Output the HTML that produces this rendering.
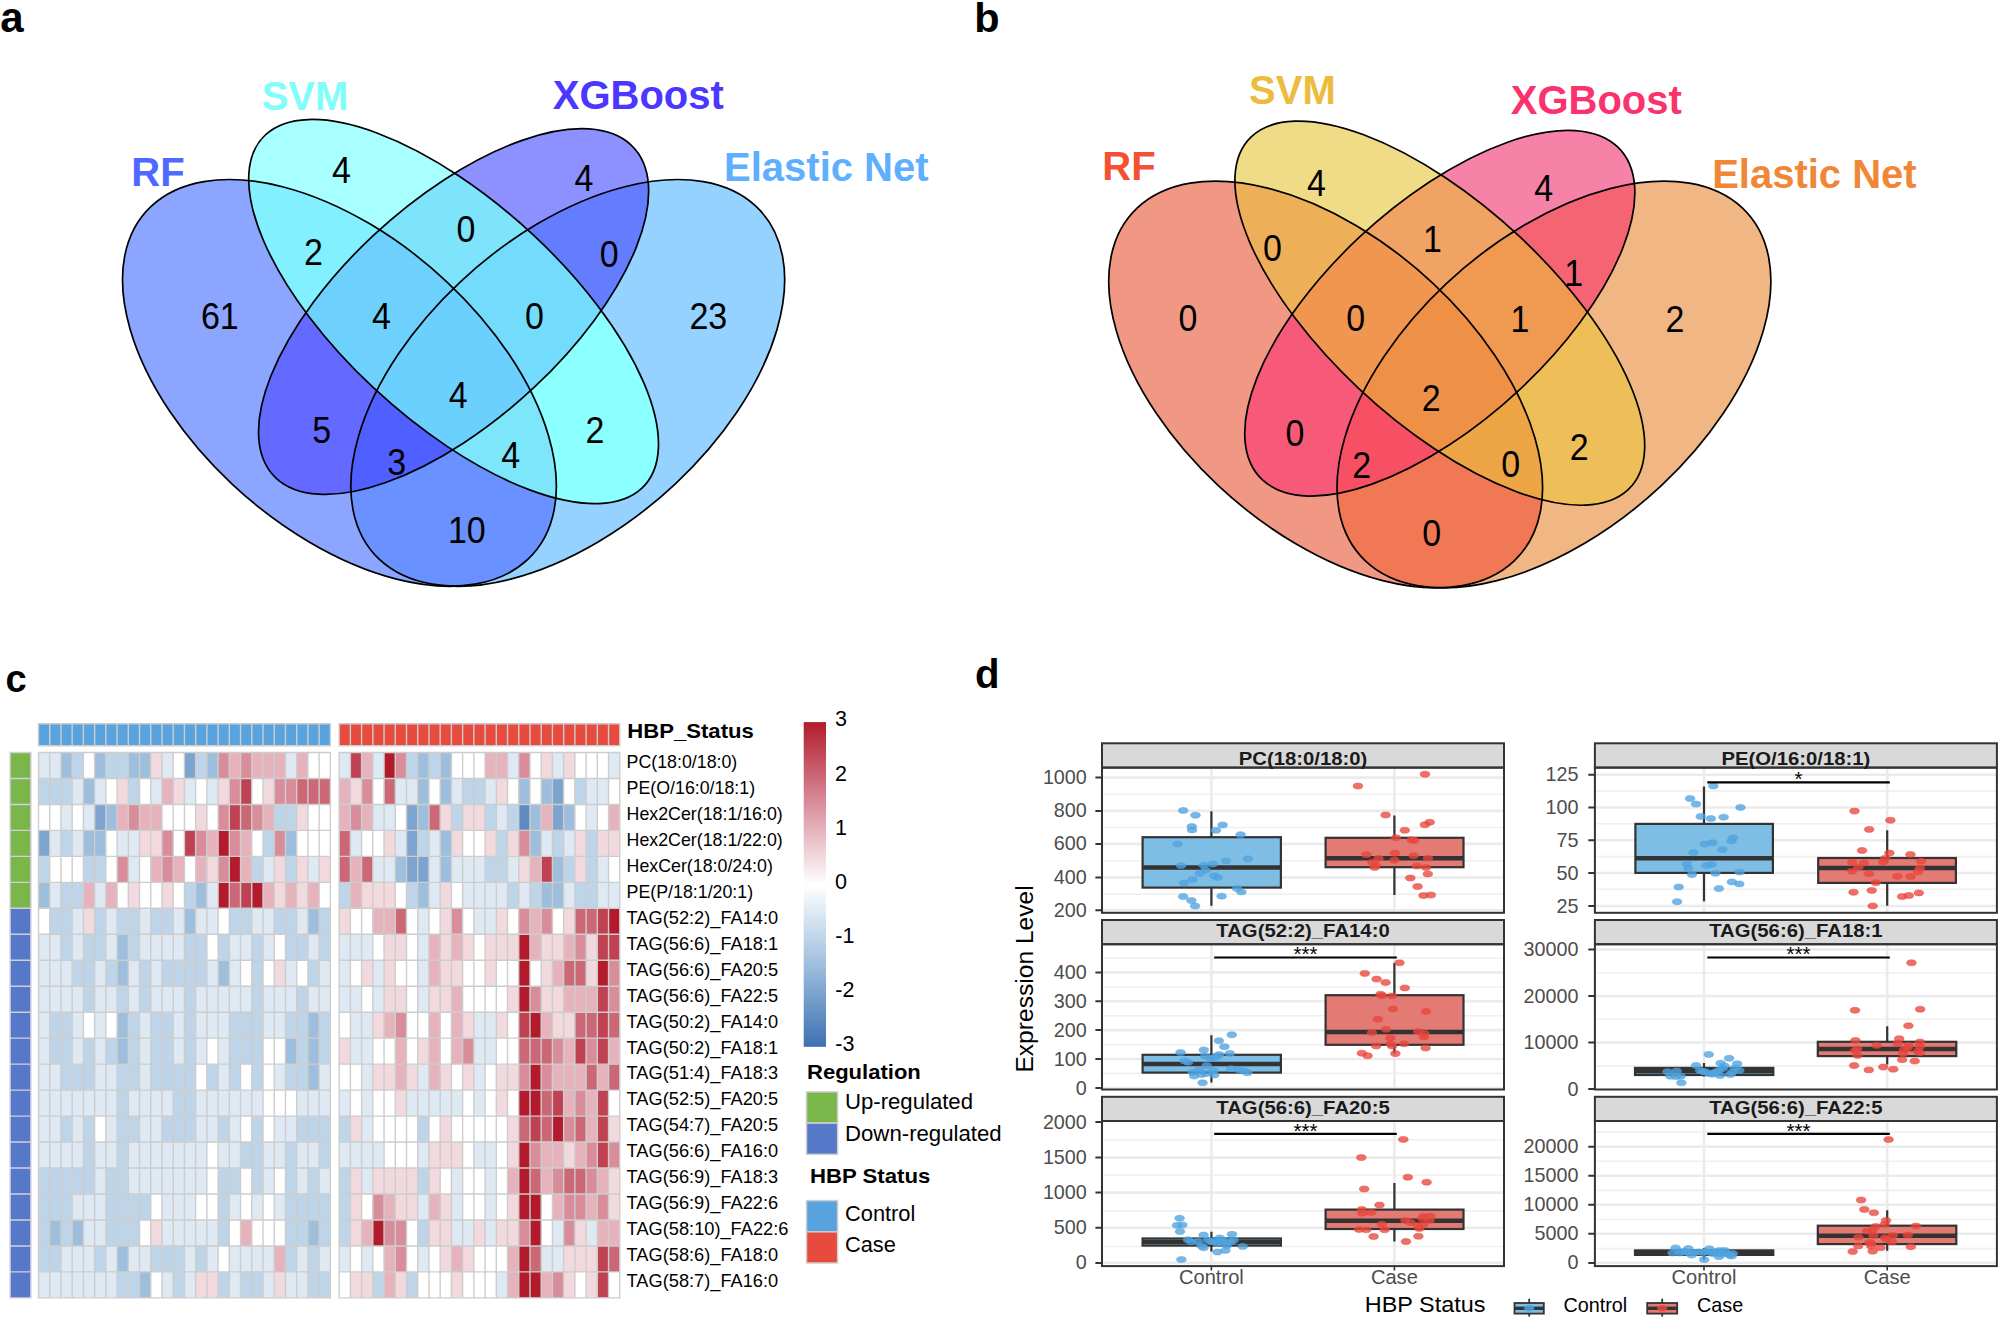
<!DOCTYPE html>
<html><head><meta charset="utf-8"><title>Figure</title>
<style>html,body{margin:0;padding:0;background:#fff}svg{display:block}text{font-family:"Liberation Sans",sans-serif}</style>
</head><body>
<svg width="2000" height="1319" viewBox="0 0 2000 1319">
<rect width="2000" height="1319" fill="#fff"/>
<g font-weight="bold" fill="#000"><text x="0.3" y="31.6" font-size="42">a</text><text x="974.2" y="31.7" font-size="41.5">b</text><text x="5.6" y="692" font-size="38">c</text><text x="975" y="687.7" font-size="40.2">d</text></g>
<g transform="translate(73.10,718.20) scale(761.00,-713.40)">
<defs>
<clipPath id="ac01"><ellipse cx="0.35" cy="0.47" rx="0.35" ry="0.2" transform="rotate(135 0.35 0.47)"/></clipPath>
<clipPath id="ac02"><ellipse cx="0.35" cy="0.47" rx="0.35" ry="0.2" transform="rotate(135 0.35 0.47)"/></clipPath>
<clipPath id="ac03"><ellipse cx="0.35" cy="0.47" rx="0.35" ry="0.2" transform="rotate(135 0.35 0.47)"/></clipPath>
<clipPath id="ac12"><ellipse cx="0.5" cy="0.57" rx="0.35" ry="0.15" transform="rotate(135 0.5 0.57)"/></clipPath>
<clipPath id="ac13"><ellipse cx="0.5" cy="0.57" rx="0.35" ry="0.15" transform="rotate(135 0.5 0.57)"/></clipPath>
<clipPath id="ac23"><ellipse cx="0.5" cy="0.57" rx="0.33" ry="0.15" transform="rotate(45 0.5 0.57)"/></clipPath>
<clipPath id="ac012" clip-path="url(#ac01)"><ellipse cx="0.5" cy="0.57" rx="0.35" ry="0.15" transform="rotate(135 0.5 0.57)"/></clipPath>
<clipPath id="ac013" clip-path="url(#ac01)"><ellipse cx="0.5" cy="0.57" rx="0.35" ry="0.15" transform="rotate(135 0.5 0.57)"/></clipPath>
<clipPath id="ac023" clip-path="url(#ac02)"><ellipse cx="0.5" cy="0.57" rx="0.33" ry="0.15" transform="rotate(45 0.5 0.57)"/></clipPath>
<clipPath id="ac123" clip-path="url(#ac12)"><ellipse cx="0.5" cy="0.57" rx="0.33" ry="0.15" transform="rotate(45 0.5 0.57)"/></clipPath>
<clipPath id="ac0123" clip-path="url(#ac012)"><ellipse cx="0.5" cy="0.57" rx="0.33" ry="0.15" transform="rotate(45 0.5 0.57)"/></clipPath>
</defs>
<ellipse cx="0.35" cy="0.47" rx="0.35" ry="0.2" transform="rotate(135 0.35 0.47)" fill="#8CA5FF"/>
<ellipse cx="0.5" cy="0.57" rx="0.35" ry="0.15" transform="rotate(135 0.5 0.57)" fill="#A8FFFF"/>
<ellipse cx="0.5" cy="0.57" rx="0.33" ry="0.15" transform="rotate(45 0.5 0.57)" fill="#8C91FF"/>
<ellipse cx="0.65" cy="0.47" rx="0.35" ry="0.2" transform="rotate(45 0.65 0.47)" fill="#96D2FF"/>
<g clip-path="url(#ac01)"><ellipse cx="0.5" cy="0.57" rx="0.35" ry="0.15" transform="rotate(135 0.5 0.57)" fill="#82F0FF"/></g>
<g clip-path="url(#ac02)"><ellipse cx="0.5" cy="0.57" rx="0.33" ry="0.15" transform="rotate(45 0.5 0.57)" fill="#6469FF"/></g>
<g clip-path="url(#ac03)"><ellipse cx="0.65" cy="0.47" rx="0.35" ry="0.2" transform="rotate(45 0.65 0.47)" fill="#6991FF"/></g>
<g clip-path="url(#ac12)"><ellipse cx="0.5" cy="0.57" rx="0.33" ry="0.15" transform="rotate(45 0.5 0.57)" fill="#7DE4FC"/></g>
<g clip-path="url(#ac13)"><ellipse cx="0.65" cy="0.47" rx="0.35" ry="0.2" transform="rotate(45 0.65 0.47)" fill="#8CFFFF"/></g>
<g clip-path="url(#ac23)"><ellipse cx="0.65" cy="0.47" rx="0.35" ry="0.2" transform="rotate(45 0.65 0.47)" fill="#647DFF"/></g>
<g clip-path="url(#ac012)"><ellipse cx="0.5" cy="0.57" rx="0.33" ry="0.15" transform="rotate(45 0.5 0.57)" fill="#6ED0FC"/></g>
<g clip-path="url(#ac013)"><ellipse cx="0.65" cy="0.47" rx="0.35" ry="0.2" transform="rotate(45 0.65 0.47)" fill="#7DE6FA"/></g>
<g clip-path="url(#ac023)"><ellipse cx="0.65" cy="0.47" rx="0.35" ry="0.2" transform="rotate(45 0.65 0.47)" fill="#505FFF"/></g>
<g clip-path="url(#ac123)"><ellipse cx="0.65" cy="0.47" rx="0.35" ry="0.2" transform="rotate(45 0.65 0.47)" fill="#73DCFD"/></g>
<g clip-path="url(#ac0123)"><ellipse cx="0.65" cy="0.47" rx="0.35" ry="0.2" transform="rotate(45 0.65 0.47)" fill="#6CD0FF"/></g>
<ellipse cx="0.65" cy="0.47" rx="0.35" ry="0.2" transform="rotate(45 0.65 0.47)" fill="none" stroke="#000" stroke-width="1.7" vector-effect="non-scaling-stroke"/>
<ellipse cx="0.35" cy="0.47" rx="0.35" ry="0.2" transform="rotate(135 0.35 0.47)" fill="none" stroke="#000" stroke-width="1.7" vector-effect="non-scaling-stroke"/>
<ellipse cx="0.5" cy="0.57" rx="0.33" ry="0.15" transform="rotate(45 0.5 0.57)" fill="none" stroke="#000" stroke-width="1.7" vector-effect="non-scaling-stroke"/>
<ellipse cx="0.5" cy="0.57" rx="0.35" ry="0.15" transform="rotate(135 0.5 0.57)" fill="none" stroke="#000" stroke-width="1.7" vector-effect="non-scaling-stroke"/>
</g>
<g font-size="37" fill="#000">
<text x="200.9" y="329.1" textLength="37.9" lengthAdjust="spacingAndGlyphs">61</text>
<text x="332.1" y="182.7" textLength="18.9" lengthAdjust="spacingAndGlyphs">4</text>
<text x="574.6" y="190.5" textLength="18.9" lengthAdjust="spacingAndGlyphs">4</text>
<text x="689.4" y="329.1" textLength="37.9" lengthAdjust="spacingAndGlyphs">23</text>
<text x="304.0" y="264.6" textLength="18.9" lengthAdjust="spacingAndGlyphs">2</text>
<text x="456.6" y="242.1" textLength="18.9" lengthAdjust="spacingAndGlyphs">0</text>
<text x="599.8" y="266.7" textLength="18.9" lengthAdjust="spacingAndGlyphs">0</text>
<text x="372.0" y="329.1" textLength="18.9" lengthAdjust="spacingAndGlyphs">4</text>
<text x="525.0" y="329.1" textLength="18.9" lengthAdjust="spacingAndGlyphs">0</text>
<text x="448.8" y="407.7" textLength="18.9" lengthAdjust="spacingAndGlyphs">4</text>
<text x="312.3" y="442.5" textLength="18.9" lengthAdjust="spacingAndGlyphs">5</text>
<text x="585.5" y="442.5" textLength="18.9" lengthAdjust="spacingAndGlyphs">2</text>
<text x="387.3" y="474.5" textLength="18.9" lengthAdjust="spacingAndGlyphs">3</text>
<text x="501.3" y="468.2" textLength="18.9" lengthAdjust="spacingAndGlyphs">4</text>
<text x="447.9" y="543.2" textLength="37.9" lengthAdjust="spacingAndGlyphs">10</text>
</g>
<g font-size="40" font-weight="bold" text-anchor="middle">
<text x="158" y="186" fill="#4D69FF">RF</text>
<text x="305" y="110" fill="#80FFFA">SVM</text>
<text x="638.3" y="109.1" fill="#4B37FF">XGBoost</text>
<text x="826.3" y="180.8" fill="#5FAFFF">Elastic Net</text>
</g>
<g transform="translate(1059.30,719.80) scale(761.00,-713.40)">
<defs>
<clipPath id="bc01"><ellipse cx="0.35" cy="0.47" rx="0.35" ry="0.2" transform="rotate(135 0.35 0.47)"/></clipPath>
<clipPath id="bc02"><ellipse cx="0.35" cy="0.47" rx="0.35" ry="0.2" transform="rotate(135 0.35 0.47)"/></clipPath>
<clipPath id="bc03"><ellipse cx="0.35" cy="0.47" rx="0.35" ry="0.2" transform="rotate(135 0.35 0.47)"/></clipPath>
<clipPath id="bc12"><ellipse cx="0.5" cy="0.57" rx="0.35" ry="0.15" transform="rotate(135 0.5 0.57)"/></clipPath>
<clipPath id="bc13"><ellipse cx="0.5" cy="0.57" rx="0.35" ry="0.15" transform="rotate(135 0.5 0.57)"/></clipPath>
<clipPath id="bc23"><ellipse cx="0.5" cy="0.57" rx="0.33" ry="0.15" transform="rotate(45 0.5 0.57)"/></clipPath>
<clipPath id="bc012" clip-path="url(#bc01)"><ellipse cx="0.5" cy="0.57" rx="0.35" ry="0.15" transform="rotate(135 0.5 0.57)"/></clipPath>
<clipPath id="bc013" clip-path="url(#bc01)"><ellipse cx="0.5" cy="0.57" rx="0.35" ry="0.15" transform="rotate(135 0.5 0.57)"/></clipPath>
<clipPath id="bc023" clip-path="url(#bc02)"><ellipse cx="0.5" cy="0.57" rx="0.33" ry="0.15" transform="rotate(45 0.5 0.57)"/></clipPath>
<clipPath id="bc123" clip-path="url(#bc12)"><ellipse cx="0.5" cy="0.57" rx="0.33" ry="0.15" transform="rotate(45 0.5 0.57)"/></clipPath>
<clipPath id="bc0123" clip-path="url(#bc012)"><ellipse cx="0.5" cy="0.57" rx="0.33" ry="0.15" transform="rotate(45 0.5 0.57)"/></clipPath>
</defs>
<ellipse cx="0.35" cy="0.47" rx="0.35" ry="0.2" transform="rotate(135 0.35 0.47)" fill="#F19885"/>
<ellipse cx="0.5" cy="0.57" rx="0.35" ry="0.15" transform="rotate(135 0.5 0.57)" fill="#F0DC87"/>
<ellipse cx="0.5" cy="0.57" rx="0.33" ry="0.15" transform="rotate(45 0.5 0.57)" fill="#F682A8"/>
<ellipse cx="0.65" cy="0.47" rx="0.35" ry="0.2" transform="rotate(45 0.65 0.47)" fill="#F0B785"/>
<g clip-path="url(#bc01)"><ellipse cx="0.5" cy="0.57" rx="0.35" ry="0.15" transform="rotate(135 0.5 0.57)" fill="#EDAF58"/></g>
<g clip-path="url(#bc02)"><ellipse cx="0.5" cy="0.57" rx="0.33" ry="0.15" transform="rotate(45 0.5 0.57)" fill="#F75A78"/></g>
<g clip-path="url(#bc03)"><ellipse cx="0.65" cy="0.47" rx="0.35" ry="0.2" transform="rotate(45 0.65 0.47)" fill="#F07855"/></g>
<g clip-path="url(#bc12)"><ellipse cx="0.5" cy="0.57" rx="0.33" ry="0.15" transform="rotate(45 0.5 0.57)" fill="#F0A362"/></g>
<g clip-path="url(#bc13)"><ellipse cx="0.65" cy="0.47" rx="0.35" ry="0.2" transform="rotate(45 0.65 0.47)" fill="#EEBE58"/></g>
<g clip-path="url(#bc23)"><ellipse cx="0.65" cy="0.47" rx="0.35" ry="0.2" transform="rotate(45 0.65 0.47)" fill="#F56473"/></g>
<g clip-path="url(#bc012)"><ellipse cx="0.5" cy="0.57" rx="0.33" ry="0.15" transform="rotate(45 0.5 0.57)" fill="#F09650"/></g>
<g clip-path="url(#bc013)"><ellipse cx="0.65" cy="0.47" rx="0.35" ry="0.2" transform="rotate(45 0.65 0.47)" fill="#EEA546"/></g>
<g clip-path="url(#bc023)"><ellipse cx="0.65" cy="0.47" rx="0.35" ry="0.2" transform="rotate(45 0.65 0.47)" fill="#F75064"/></g>
<g clip-path="url(#bc123)"><ellipse cx="0.65" cy="0.47" rx="0.35" ry="0.2" transform="rotate(45 0.65 0.47)" fill="#F09950"/></g>
<g clip-path="url(#bc0123)"><ellipse cx="0.65" cy="0.47" rx="0.35" ry="0.2" transform="rotate(45 0.65 0.47)" fill="#EE9146"/></g>
<ellipse cx="0.65" cy="0.47" rx="0.35" ry="0.2" transform="rotate(45 0.65 0.47)" fill="none" stroke="#000" stroke-width="1.7" vector-effect="non-scaling-stroke"/>
<ellipse cx="0.35" cy="0.47" rx="0.35" ry="0.2" transform="rotate(135 0.35 0.47)" fill="none" stroke="#000" stroke-width="1.7" vector-effect="non-scaling-stroke"/>
<ellipse cx="0.5" cy="0.57" rx="0.33" ry="0.15" transform="rotate(45 0.5 0.57)" fill="none" stroke="#000" stroke-width="1.7" vector-effect="non-scaling-stroke"/>
<ellipse cx="0.5" cy="0.57" rx="0.35" ry="0.15" transform="rotate(135 0.5 0.57)" fill="none" stroke="#000" stroke-width="1.7" vector-effect="non-scaling-stroke"/>
</g>
<g font-size="37" fill="#000">
<text x="1178.4" y="331.2" textLength="18.9" lengthAdjust="spacingAndGlyphs">0</text>
<text x="1306.9" y="196.0" textLength="18.9" lengthAdjust="spacingAndGlyphs">4</text>
<text x="1534.3" y="200.7" textLength="18.9" lengthAdjust="spacingAndGlyphs">4</text>
<text x="1665.5" y="332.2" textLength="18.9" lengthAdjust="spacingAndGlyphs">2</text>
<text x="1262.9" y="260.5" textLength="18.9" lengthAdjust="spacingAndGlyphs">0</text>
<text x="1423.0" y="252.3" textLength="18.9" lengthAdjust="spacingAndGlyphs">1</text>
<text x="1564.3" y="285.7" textLength="18.9" lengthAdjust="spacingAndGlyphs">1</text>
<text x="1346.2" y="331.2" textLength="18.9" lengthAdjust="spacingAndGlyphs">0</text>
<text x="1510.5" y="332.2" textLength="18.9" lengthAdjust="spacingAndGlyphs">1</text>
<text x="1421.8" y="411.2" textLength="18.9" lengthAdjust="spacingAndGlyphs">2</text>
<text x="1285.5" y="446.2" textLength="18.9" lengthAdjust="spacingAndGlyphs">0</text>
<text x="1569.8" y="459.5" textLength="18.9" lengthAdjust="spacingAndGlyphs">2</text>
<text x="1352.3" y="478.2" textLength="18.9" lengthAdjust="spacingAndGlyphs">2</text>
<text x="1501.3" y="477.0" textLength="18.9" lengthAdjust="spacingAndGlyphs">0</text>
<text x="1422.3" y="545.7" textLength="18.9" lengthAdjust="spacingAndGlyphs">0</text>
</g>
<g font-size="40" font-weight="bold" text-anchor="middle">
<text x="1129" y="179.8" fill="#F55032">RF</text>
<text x="1292.4" y="103.6" fill="#EBBC3E">SVM</text>
<text x="1596.3" y="113.8" fill="#FA326E">XGBoost</text>
<text x="1814.4" y="188" fill="#F08737">Elastic Net</text>
</g>
<path fill="#5E8AC0" d="M518.75 804.44h11.225v25.97h-11.225z"/>
<path fill="#7DA4CF" d="M184.42 752.50h11.225v25.97h-11.225zM552.42 778.47h11.225v25.97h-11.225zM94.62 804.44h11.225v25.97h-11.225zM406.50 804.44h11.225v25.97h-11.225zM552.42 804.44h11.225v25.97h-11.225zM38.50 830.41h11.225v25.97h-11.225zM406.50 830.41h11.225v25.97h-11.225zM406.50 856.38h11.225v25.97h-11.225zM417.72 856.38h11.225v25.97h-11.225z"/>
<path fill="#9DBEDD" d="M60.95 752.50h11.225v25.97h-11.225zM94.62 752.50h11.225v25.97h-11.225zM128.30 752.50h11.225v25.97h-11.225zM139.52 752.50h11.225v25.97h-11.225zM206.88 752.50h11.225v25.97h-11.225zM417.72 752.50h11.225v25.97h-11.225zM440.17 752.50h11.225v25.97h-11.225zM83.40 778.47h11.225v25.97h-11.225zM417.72 778.47h11.225v25.97h-11.225zM440.17 778.47h11.225v25.97h-11.225zM518.75 778.47h11.225v25.97h-11.225zM541.20 778.47h11.225v25.97h-11.225zM105.85 804.44h11.225v25.97h-11.225zM417.72 804.44h11.225v25.97h-11.225zM529.97 804.44h11.225v25.97h-11.225zM563.65 804.44h11.225v25.97h-11.225zM83.40 830.41h11.225v25.97h-11.225zM94.62 830.41h11.225v25.97h-11.225zM285.45 830.41h11.225v25.97h-11.225zM440.17 830.41h11.225v25.97h-11.225zM529.97 830.41h11.225v25.97h-11.225zM395.27 856.38h11.225v25.97h-11.225zM440.17 856.38h11.225v25.97h-11.225zM552.42 856.38h11.225v25.97h-11.225zM38.50 882.35h11.225v25.97h-11.225zM195.65 882.35h11.225v25.97h-11.225zM417.72 882.35h11.225v25.97h-11.225zM541.20 882.35h11.225v25.97h-11.225zM552.42 882.35h11.225v25.97h-11.225zM184.42 908.32h11.225v25.97h-11.225zM307.90 908.32h11.225v25.97h-11.225zM117.08 934.29h11.225v25.97h-11.225zM117.08 960.26h11.225v25.97h-11.225zM218.10 960.26h11.225v25.97h-11.225zM117.08 1012.20h11.225v25.97h-11.225zM307.90 1012.20h11.225v25.97h-11.225zM117.08 1038.17h11.225v25.97h-11.225zM285.45 1038.17h11.225v25.97h-11.225zM307.90 1038.17h11.225v25.97h-11.225zM307.90 1064.14h11.225v25.97h-11.225zM49.73 1219.96h11.225v25.97h-11.225zM72.17 1219.96h11.225v25.97h-11.225zM307.90 1219.96h11.225v25.97h-11.225zM117.08 1245.93h11.225v25.97h-11.225zM139.52 1271.90h11.225v25.97h-11.225z"/>
<path fill="#BED4E8" d="M72.17 752.50h11.225v25.97h-11.225zM105.85 752.50h11.225v25.97h-11.225zM117.08 752.50h11.225v25.97h-11.225zM195.65 752.50h11.225v25.97h-11.225zM406.50 752.50h11.225v25.97h-11.225zM428.95 752.50h11.225v25.97h-11.225zM38.50 778.47h11.225v25.97h-11.225zM49.73 778.47h11.225v25.97h-11.225zM60.95 778.47h11.225v25.97h-11.225zM128.30 778.47h11.225v25.97h-11.225zM462.62 778.47h11.225v25.97h-11.225zM473.85 778.47h11.225v25.97h-11.225zM574.88 778.47h11.225v25.97h-11.225zM274.23 804.44h11.225v25.97h-11.225zM285.45 804.44h11.225v25.97h-11.225zM451.40 804.44h11.225v25.97h-11.225zM485.07 804.44h11.225v25.97h-11.225zM507.52 804.44h11.225v25.97h-11.225zM60.95 830.41h11.225v25.97h-11.225zM263.00 830.41h11.225v25.97h-11.225zM417.72 830.41h11.225v25.97h-11.225zM496.30 830.41h11.225v25.97h-11.225zM552.42 830.41h11.225v25.97h-11.225zM586.10 830.41h11.225v25.97h-11.225zM38.50 856.38h11.225v25.97h-11.225zM83.40 856.38h11.225v25.97h-11.225zM94.62 856.38h11.225v25.97h-11.225zM251.78 856.38h11.225v25.97h-11.225zM285.45 856.38h11.225v25.97h-11.225zM485.07 856.38h11.225v25.97h-11.225zM496.30 856.38h11.225v25.97h-11.225zM563.65 856.38h11.225v25.97h-11.225zM586.10 856.38h11.225v25.97h-11.225zM60.95 882.35h11.225v25.97h-11.225zM72.17 882.35h11.225v25.97h-11.225zM184.42 882.35h11.225v25.97h-11.225zM339.15 882.35h11.225v25.97h-11.225zM406.50 882.35h11.225v25.97h-11.225zM507.52 882.35h11.225v25.97h-11.225zM529.97 882.35h11.225v25.97h-11.225zM574.88 882.35h11.225v25.97h-11.225zM586.10 882.35h11.225v25.97h-11.225zM49.73 908.32h11.225v25.97h-11.225zM60.95 908.32h11.225v25.97h-11.225zM94.62 908.32h11.225v25.97h-11.225zM117.08 908.32h11.225v25.97h-11.225zM128.30 908.32h11.225v25.97h-11.225zM150.75 908.32h11.225v25.97h-11.225zM161.97 908.32h11.225v25.97h-11.225zM229.32 908.32h11.225v25.97h-11.225zM240.55 908.32h11.225v25.97h-11.225zM274.23 908.32h11.225v25.97h-11.225zM285.45 908.32h11.225v25.97h-11.225zM319.12 908.32h11.225v25.97h-11.225zM60.95 934.29h11.225v25.97h-11.225zM83.40 934.29h11.225v25.97h-11.225zM94.62 934.29h11.225v25.97h-11.225zM128.30 934.29h11.225v25.97h-11.225zM184.42 934.29h11.225v25.97h-11.225zM195.65 934.29h11.225v25.97h-11.225zM218.10 934.29h11.225v25.97h-11.225zM251.78 934.29h11.225v25.97h-11.225zM285.45 934.29h11.225v25.97h-11.225zM296.68 934.29h11.225v25.97h-11.225zM319.12 934.29h11.225v25.97h-11.225zM72.17 960.26h11.225v25.97h-11.225zM83.40 960.26h11.225v25.97h-11.225zM105.85 960.26h11.225v25.97h-11.225zM139.52 960.26h11.225v25.97h-11.225zM161.97 960.26h11.225v25.97h-11.225zM173.20 960.26h11.225v25.97h-11.225zM184.42 960.26h11.225v25.97h-11.225zM195.65 960.26h11.225v25.97h-11.225zM251.78 960.26h11.225v25.97h-11.225zM307.90 960.26h11.225v25.97h-11.225zM83.40 986.23h11.225v25.97h-11.225zM117.08 986.23h11.225v25.97h-11.225zM139.52 986.23h11.225v25.97h-11.225zM184.42 986.23h11.225v25.97h-11.225zM251.78 986.23h11.225v25.97h-11.225zM296.68 986.23h11.225v25.97h-11.225zM49.73 1012.20h11.225v25.97h-11.225zM60.95 1012.20h11.225v25.97h-11.225zM128.30 1012.20h11.225v25.97h-11.225zM150.75 1012.20h11.225v25.97h-11.225zM161.97 1012.20h11.225v25.97h-11.225zM184.42 1012.20h11.225v25.97h-11.225zM229.32 1012.20h11.225v25.97h-11.225zM240.55 1012.20h11.225v25.97h-11.225zM251.78 1012.20h11.225v25.97h-11.225zM285.45 1012.20h11.225v25.97h-11.225zM296.68 1012.20h11.225v25.97h-11.225zM319.12 1012.20h11.225v25.97h-11.225zM49.73 1038.17h11.225v25.97h-11.225zM60.95 1038.17h11.225v25.97h-11.225zM83.40 1038.17h11.225v25.97h-11.225zM105.85 1038.17h11.225v25.97h-11.225zM128.30 1038.17h11.225v25.97h-11.225zM150.75 1038.17h11.225v25.97h-11.225zM161.97 1038.17h11.225v25.97h-11.225zM184.42 1038.17h11.225v25.97h-11.225zM229.32 1038.17h11.225v25.97h-11.225zM240.55 1038.17h11.225v25.97h-11.225zM251.78 1038.17h11.225v25.97h-11.225zM296.68 1038.17h11.225v25.97h-11.225zM319.12 1038.17h11.225v25.97h-11.225zM60.95 1064.14h11.225v25.97h-11.225zM72.17 1064.14h11.225v25.97h-11.225zM83.40 1064.14h11.225v25.97h-11.225zM117.08 1064.14h11.225v25.97h-11.225zM128.30 1064.14h11.225v25.97h-11.225zM150.75 1064.14h11.225v25.97h-11.225zM161.97 1064.14h11.225v25.97h-11.225zM173.20 1064.14h11.225v25.97h-11.225zM184.42 1064.14h11.225v25.97h-11.225zM206.88 1064.14h11.225v25.97h-11.225zM229.32 1064.14h11.225v25.97h-11.225zM251.78 1064.14h11.225v25.97h-11.225zM285.45 1064.14h11.225v25.97h-11.225zM296.68 1064.14h11.225v25.97h-11.225zM117.08 1090.11h11.225v25.97h-11.225zM173.20 1090.11h11.225v25.97h-11.225zM184.42 1090.11h11.225v25.97h-11.225zM60.95 1116.08h11.225v25.97h-11.225zM83.40 1116.08h11.225v25.97h-11.225zM117.08 1116.08h11.225v25.97h-11.225zM128.30 1116.08h11.225v25.97h-11.225zM161.97 1116.08h11.225v25.97h-11.225zM173.20 1116.08h11.225v25.97h-11.225zM184.42 1116.08h11.225v25.97h-11.225zM218.10 1116.08h11.225v25.97h-11.225zM251.78 1116.08h11.225v25.97h-11.225zM296.68 1116.08h11.225v25.97h-11.225zM307.90 1116.08h11.225v25.97h-11.225zM319.12 1116.08h11.225v25.97h-11.225zM339.15 1116.08h11.225v25.97h-11.225zM417.72 1116.08h11.225v25.97h-11.225zM83.40 1142.05h11.225v25.97h-11.225zM117.08 1142.05h11.225v25.97h-11.225zM240.55 1142.05h11.225v25.97h-11.225zM251.78 1142.05h11.225v25.97h-11.225zM285.45 1142.05h11.225v25.97h-11.225zM319.12 1142.05h11.225v25.97h-11.225zM38.50 1168.02h11.225v25.97h-11.225zM49.73 1168.02h11.225v25.97h-11.225zM60.95 1168.02h11.225v25.97h-11.225zM72.17 1168.02h11.225v25.97h-11.225zM83.40 1168.02h11.225v25.97h-11.225zM105.85 1168.02h11.225v25.97h-11.225zM117.08 1168.02h11.225v25.97h-11.225zM218.10 1168.02h11.225v25.97h-11.225zM229.32 1168.02h11.225v25.97h-11.225zM251.78 1168.02h11.225v25.97h-11.225zM285.45 1168.02h11.225v25.97h-11.225zM307.90 1168.02h11.225v25.97h-11.225zM339.15 1168.02h11.225v25.97h-11.225zM417.72 1168.02h11.225v25.97h-11.225zM38.50 1193.99h11.225v25.97h-11.225zM49.73 1193.99h11.225v25.97h-11.225zM60.95 1193.99h11.225v25.97h-11.225zM105.85 1193.99h11.225v25.97h-11.225zM117.08 1193.99h11.225v25.97h-11.225zM128.30 1193.99h11.225v25.97h-11.225zM139.52 1193.99h11.225v25.97h-11.225zM218.10 1193.99h11.225v25.97h-11.225zM285.45 1193.99h11.225v25.97h-11.225zM296.68 1193.99h11.225v25.97h-11.225zM307.90 1193.99h11.225v25.97h-11.225zM319.12 1193.99h11.225v25.97h-11.225zM339.15 1193.99h11.225v25.97h-11.225zM38.50 1219.96h11.225v25.97h-11.225zM60.95 1219.96h11.225v25.97h-11.225zM105.85 1219.96h11.225v25.97h-11.225zM117.08 1219.96h11.225v25.97h-11.225zM128.30 1219.96h11.225v25.97h-11.225zM218.10 1219.96h11.225v25.97h-11.225zM285.45 1219.96h11.225v25.97h-11.225zM296.68 1219.96h11.225v25.97h-11.225zM319.12 1219.96h11.225v25.97h-11.225zM339.15 1219.96h11.225v25.97h-11.225zM417.72 1219.96h11.225v25.97h-11.225zM38.50 1245.93h11.225v25.97h-11.225zM49.73 1245.93h11.225v25.97h-11.225zM94.62 1245.93h11.225v25.97h-11.225zM150.75 1245.93h11.225v25.97h-11.225zM161.97 1245.93h11.225v25.97h-11.225zM173.20 1245.93h11.225v25.97h-11.225zM195.65 1245.93h11.225v25.97h-11.225zM285.45 1245.93h11.225v25.97h-11.225zM307.90 1245.93h11.225v25.97h-11.225zM117.08 1271.90h11.225v25.97h-11.225zM128.30 1271.90h11.225v25.97h-11.225zM173.20 1271.90h11.225v25.97h-11.225zM218.10 1271.90h11.225v25.97h-11.225zM240.55 1271.90h11.225v25.97h-11.225zM251.78 1271.90h11.225v25.97h-11.225zM307.90 1271.90h11.225v25.97h-11.225zM319.12 1271.90h11.225v25.97h-11.225zM372.82 1271.90h11.225v25.97h-11.225zM406.50 1271.90h11.225v25.97h-11.225z"/>
<path fill="#DEE9F4" d="M38.50 752.50h11.225v25.97h-11.225zM49.73 752.50h11.225v25.97h-11.225zM161.97 752.50h11.225v25.97h-11.225zM285.45 752.50h11.225v25.97h-11.225zM339.15 752.50h11.225v25.97h-11.225zM372.82 752.50h11.225v25.97h-11.225zM507.52 752.50h11.225v25.97h-11.225zM552.42 752.50h11.225v25.97h-11.225zM608.55 752.50h11.225v25.97h-11.225zM72.17 778.47h11.225v25.97h-11.225zM94.62 778.47h11.225v25.97h-11.225zM150.75 778.47h11.225v25.97h-11.225zM184.42 778.47h11.225v25.97h-11.225zM206.88 778.47h11.225v25.97h-11.225zM395.27 778.47h11.225v25.97h-11.225zM406.50 778.47h11.225v25.97h-11.225zM451.40 778.47h11.225v25.97h-11.225zM485.07 778.47h11.225v25.97h-11.225zM586.10 778.47h11.225v25.97h-11.225zM597.33 778.47h11.225v25.97h-11.225zM60.95 804.44h11.225v25.97h-11.225zM83.40 804.44h11.225v25.97h-11.225zM372.82 804.44h11.225v25.97h-11.225zM384.05 804.44h11.225v25.97h-11.225zM496.30 804.44h11.225v25.97h-11.225zM586.10 804.44h11.225v25.97h-11.225zM49.73 830.41h11.225v25.97h-11.225zM72.17 830.41h11.225v25.97h-11.225zM117.08 830.41h11.225v25.97h-11.225zM128.30 830.41h11.225v25.97h-11.225zM350.38 830.41h11.225v25.97h-11.225zM395.27 830.41h11.225v25.97h-11.225zM428.95 830.41h11.225v25.97h-11.225zM541.20 830.41h11.225v25.97h-11.225zM563.65 830.41h11.225v25.97h-11.225zM128.30 856.38h11.225v25.97h-11.225zM263.00 856.38h11.225v25.97h-11.225zM307.90 856.38h11.225v25.97h-11.225zM372.82 856.38h11.225v25.97h-11.225zM384.05 856.38h11.225v25.97h-11.225zM428.95 856.38h11.225v25.97h-11.225zM451.40 856.38h11.225v25.97h-11.225zM462.62 856.38h11.225v25.97h-11.225zM473.85 856.38h11.225v25.97h-11.225zM507.52 856.38h11.225v25.97h-11.225zM597.33 856.38h11.225v25.97h-11.225zM49.73 882.35h11.225v25.97h-11.225zM94.62 882.35h11.225v25.97h-11.225zM206.88 882.35h11.225v25.97h-11.225zM428.95 882.35h11.225v25.97h-11.225zM462.62 882.35h11.225v25.97h-11.225zM473.85 882.35h11.225v25.97h-11.225zM485.07 882.35h11.225v25.97h-11.225zM496.30 882.35h11.225v25.97h-11.225zM518.75 882.35h11.225v25.97h-11.225zM563.65 882.35h11.225v25.97h-11.225zM597.33 882.35h11.225v25.97h-11.225zM608.55 882.35h11.225v25.97h-11.225zM72.17 908.32h11.225v25.97h-11.225zM105.85 908.32h11.225v25.97h-11.225zM139.52 908.32h11.225v25.97h-11.225zM173.20 908.32h11.225v25.97h-11.225zM195.65 908.32h11.225v25.97h-11.225zM206.88 908.32h11.225v25.97h-11.225zM251.78 908.32h11.225v25.97h-11.225zM263.00 908.32h11.225v25.97h-11.225zM296.68 908.32h11.225v25.97h-11.225zM417.72 908.32h11.225v25.97h-11.225zM473.85 908.32h11.225v25.97h-11.225zM485.07 908.32h11.225v25.97h-11.225zM38.50 934.29h11.225v25.97h-11.225zM49.73 934.29h11.225v25.97h-11.225zM72.17 934.29h11.225v25.97h-11.225zM105.85 934.29h11.225v25.97h-11.225zM139.52 934.29h11.225v25.97h-11.225zM150.75 934.29h11.225v25.97h-11.225zM161.97 934.29h11.225v25.97h-11.225zM173.20 934.29h11.225v25.97h-11.225zM229.32 934.29h11.225v25.97h-11.225zM240.55 934.29h11.225v25.97h-11.225zM263.00 934.29h11.225v25.97h-11.225zM307.90 934.29h11.225v25.97h-11.225zM339.15 934.29h11.225v25.97h-11.225zM350.38 934.29h11.225v25.97h-11.225zM361.60 934.29h11.225v25.97h-11.225zM417.72 934.29h11.225v25.97h-11.225zM38.50 960.26h11.225v25.97h-11.225zM49.73 960.26h11.225v25.97h-11.225zM60.95 960.26h11.225v25.97h-11.225zM94.62 960.26h11.225v25.97h-11.225zM128.30 960.26h11.225v25.97h-11.225zM150.75 960.26h11.225v25.97h-11.225zM206.88 960.26h11.225v25.97h-11.225zM229.32 960.26h11.225v25.97h-11.225zM285.45 960.26h11.225v25.97h-11.225zM319.12 960.26h11.225v25.97h-11.225zM339.15 960.26h11.225v25.97h-11.225zM372.82 960.26h11.225v25.97h-11.225zM417.72 960.26h11.225v25.97h-11.225zM38.50 986.23h11.225v25.97h-11.225zM49.73 986.23h11.225v25.97h-11.225zM60.95 986.23h11.225v25.97h-11.225zM72.17 986.23h11.225v25.97h-11.225zM94.62 986.23h11.225v25.97h-11.225zM105.85 986.23h11.225v25.97h-11.225zM128.30 986.23h11.225v25.97h-11.225zM150.75 986.23h11.225v25.97h-11.225zM161.97 986.23h11.225v25.97h-11.225zM173.20 986.23h11.225v25.97h-11.225zM195.65 986.23h11.225v25.97h-11.225zM206.88 986.23h11.225v25.97h-11.225zM218.10 986.23h11.225v25.97h-11.225zM229.32 986.23h11.225v25.97h-11.225zM240.55 986.23h11.225v25.97h-11.225zM263.00 986.23h11.225v25.97h-11.225zM274.23 986.23h11.225v25.97h-11.225zM285.45 986.23h11.225v25.97h-11.225zM307.90 986.23h11.225v25.97h-11.225zM319.12 986.23h11.225v25.97h-11.225zM339.15 986.23h11.225v25.97h-11.225zM350.38 986.23h11.225v25.97h-11.225zM372.82 986.23h11.225v25.97h-11.225zM417.72 986.23h11.225v25.97h-11.225zM38.50 1012.20h11.225v25.97h-11.225zM72.17 1012.20h11.225v25.97h-11.225zM94.62 1012.20h11.225v25.97h-11.225zM139.52 1012.20h11.225v25.97h-11.225zM173.20 1012.20h11.225v25.97h-11.225zM195.65 1012.20h11.225v25.97h-11.225zM206.88 1012.20h11.225v25.97h-11.225zM218.10 1012.20h11.225v25.97h-11.225zM263.00 1012.20h11.225v25.97h-11.225zM274.23 1012.20h11.225v25.97h-11.225zM350.38 1012.20h11.225v25.97h-11.225zM361.60 1012.20h11.225v25.97h-11.225zM473.85 1012.20h11.225v25.97h-11.225zM485.07 1012.20h11.225v25.97h-11.225zM38.50 1038.17h11.225v25.97h-11.225zM72.17 1038.17h11.225v25.97h-11.225zM94.62 1038.17h11.225v25.97h-11.225zM139.52 1038.17h11.225v25.97h-11.225zM173.20 1038.17h11.225v25.97h-11.225zM195.65 1038.17h11.225v25.97h-11.225zM218.10 1038.17h11.225v25.97h-11.225zM350.38 1038.17h11.225v25.97h-11.225zM361.60 1038.17h11.225v25.97h-11.225zM473.85 1038.17h11.225v25.97h-11.225zM485.07 1038.17h11.225v25.97h-11.225zM38.50 1064.14h11.225v25.97h-11.225zM49.73 1064.14h11.225v25.97h-11.225zM94.62 1064.14h11.225v25.97h-11.225zM105.85 1064.14h11.225v25.97h-11.225zM139.52 1064.14h11.225v25.97h-11.225zM218.10 1064.14h11.225v25.97h-11.225zM274.23 1064.14h11.225v25.97h-11.225zM319.12 1064.14h11.225v25.97h-11.225zM361.60 1064.14h11.225v25.97h-11.225zM417.72 1064.14h11.225v25.97h-11.225zM473.85 1064.14h11.225v25.97h-11.225zM38.50 1090.11h11.225v25.97h-11.225zM49.73 1090.11h11.225v25.97h-11.225zM60.95 1090.11h11.225v25.97h-11.225zM72.17 1090.11h11.225v25.97h-11.225zM83.40 1090.11h11.225v25.97h-11.225zM94.62 1090.11h11.225v25.97h-11.225zM105.85 1090.11h11.225v25.97h-11.225zM128.30 1090.11h11.225v25.97h-11.225zM139.52 1090.11h11.225v25.97h-11.225zM150.75 1090.11h11.225v25.97h-11.225zM161.97 1090.11h11.225v25.97h-11.225zM195.65 1090.11h11.225v25.97h-11.225zM206.88 1090.11h11.225v25.97h-11.225zM218.10 1090.11h11.225v25.97h-11.225zM229.32 1090.11h11.225v25.97h-11.225zM240.55 1090.11h11.225v25.97h-11.225zM251.78 1090.11h11.225v25.97h-11.225zM296.68 1090.11h11.225v25.97h-11.225zM307.90 1090.11h11.225v25.97h-11.225zM319.12 1090.11h11.225v25.97h-11.225zM339.15 1090.11h11.225v25.97h-11.225zM361.60 1090.11h11.225v25.97h-11.225zM406.50 1090.11h11.225v25.97h-11.225zM417.72 1090.11h11.225v25.97h-11.225zM428.95 1090.11h11.225v25.97h-11.225zM440.17 1090.11h11.225v25.97h-11.225zM451.40 1090.11h11.225v25.97h-11.225zM473.85 1090.11h11.225v25.97h-11.225zM38.50 1116.08h11.225v25.97h-11.225zM49.73 1116.08h11.225v25.97h-11.225zM72.17 1116.08h11.225v25.97h-11.225zM105.85 1116.08h11.225v25.97h-11.225zM139.52 1116.08h11.225v25.97h-11.225zM150.75 1116.08h11.225v25.97h-11.225zM195.65 1116.08h11.225v25.97h-11.225zM206.88 1116.08h11.225v25.97h-11.225zM229.32 1116.08h11.225v25.97h-11.225zM274.23 1116.08h11.225v25.97h-11.225zM285.45 1116.08h11.225v25.97h-11.225zM361.60 1116.08h11.225v25.97h-11.225zM38.50 1142.05h11.225v25.97h-11.225zM49.73 1142.05h11.225v25.97h-11.225zM60.95 1142.05h11.225v25.97h-11.225zM72.17 1142.05h11.225v25.97h-11.225zM94.62 1142.05h11.225v25.97h-11.225zM105.85 1142.05h11.225v25.97h-11.225zM128.30 1142.05h11.225v25.97h-11.225zM139.52 1142.05h11.225v25.97h-11.225zM150.75 1142.05h11.225v25.97h-11.225zM161.97 1142.05h11.225v25.97h-11.225zM173.20 1142.05h11.225v25.97h-11.225zM184.42 1142.05h11.225v25.97h-11.225zM195.65 1142.05h11.225v25.97h-11.225zM218.10 1142.05h11.225v25.97h-11.225zM229.32 1142.05h11.225v25.97h-11.225zM263.00 1142.05h11.225v25.97h-11.225zM274.23 1142.05h11.225v25.97h-11.225zM296.68 1142.05h11.225v25.97h-11.225zM307.90 1142.05h11.225v25.97h-11.225zM339.15 1142.05h11.225v25.97h-11.225zM350.38 1142.05h11.225v25.97h-11.225zM361.60 1142.05h11.225v25.97h-11.225zM372.82 1142.05h11.225v25.97h-11.225zM417.72 1142.05h11.225v25.97h-11.225zM473.85 1142.05h11.225v25.97h-11.225zM485.07 1142.05h11.225v25.97h-11.225zM94.62 1168.02h11.225v25.97h-11.225zM128.30 1168.02h11.225v25.97h-11.225zM139.52 1168.02h11.225v25.97h-11.225zM150.75 1168.02h11.225v25.97h-11.225zM161.97 1168.02h11.225v25.97h-11.225zM173.20 1168.02h11.225v25.97h-11.225zM184.42 1168.02h11.225v25.97h-11.225zM195.65 1168.02h11.225v25.97h-11.225zM263.00 1168.02h11.225v25.97h-11.225zM296.68 1168.02h11.225v25.97h-11.225zM319.12 1168.02h11.225v25.97h-11.225zM361.60 1168.02h11.225v25.97h-11.225zM451.40 1168.02h11.225v25.97h-11.225zM485.07 1168.02h11.225v25.97h-11.225zM72.17 1193.99h11.225v25.97h-11.225zM83.40 1193.99h11.225v25.97h-11.225zM94.62 1193.99h11.225v25.97h-11.225zM161.97 1193.99h11.225v25.97h-11.225zM173.20 1193.99h11.225v25.97h-11.225zM184.42 1193.99h11.225v25.97h-11.225zM229.32 1193.99h11.225v25.97h-11.225zM251.78 1193.99h11.225v25.97h-11.225zM274.23 1193.99h11.225v25.97h-11.225zM417.72 1193.99h11.225v25.97h-11.225zM451.40 1193.99h11.225v25.97h-11.225zM485.07 1193.99h11.225v25.97h-11.225zM83.40 1219.96h11.225v25.97h-11.225zM94.62 1219.96h11.225v25.97h-11.225zM161.97 1219.96h11.225v25.97h-11.225zM173.20 1219.96h11.225v25.97h-11.225zM184.42 1219.96h11.225v25.97h-11.225zM195.65 1219.96h11.225v25.97h-11.225zM206.88 1219.96h11.225v25.97h-11.225zM451.40 1219.96h11.225v25.97h-11.225zM462.62 1219.96h11.225v25.97h-11.225zM485.07 1219.96h11.225v25.97h-11.225zM552.42 1219.96h11.225v25.97h-11.225zM586.10 1219.96h11.225v25.97h-11.225zM60.95 1245.93h11.225v25.97h-11.225zM72.17 1245.93h11.225v25.97h-11.225zM83.40 1245.93h11.225v25.97h-11.225zM105.85 1245.93h11.225v25.97h-11.225zM128.30 1245.93h11.225v25.97h-11.225zM139.52 1245.93h11.225v25.97h-11.225zM184.42 1245.93h11.225v25.97h-11.225zM206.88 1245.93h11.225v25.97h-11.225zM229.32 1245.93h11.225v25.97h-11.225zM240.55 1245.93h11.225v25.97h-11.225zM251.78 1245.93h11.225v25.97h-11.225zM263.00 1245.93h11.225v25.97h-11.225zM296.68 1245.93h11.225v25.97h-11.225zM319.12 1245.93h11.225v25.97h-11.225zM339.15 1245.93h11.225v25.97h-11.225zM361.60 1245.93h11.225v25.97h-11.225zM417.72 1245.93h11.225v25.97h-11.225zM541.20 1245.93h11.225v25.97h-11.225zM552.42 1245.93h11.225v25.97h-11.225zM38.50 1271.90h11.225v25.97h-11.225zM49.73 1271.90h11.225v25.97h-11.225zM60.95 1271.90h11.225v25.97h-11.225zM72.17 1271.90h11.225v25.97h-11.225zM83.40 1271.90h11.225v25.97h-11.225zM94.62 1271.90h11.225v25.97h-11.225zM105.85 1271.90h11.225v25.97h-11.225zM161.97 1271.90h11.225v25.97h-11.225zM184.42 1271.90h11.225v25.97h-11.225zM229.32 1271.90h11.225v25.97h-11.225zM263.00 1271.90h11.225v25.97h-11.225zM285.45 1271.90h11.225v25.97h-11.225zM296.68 1271.90h11.225v25.97h-11.225zM496.30 1271.90h11.225v25.97h-11.225z"/>
<path fill="#F2D9DE" d="M150.75 752.50h11.225v25.97h-11.225zM541.20 752.50h11.225v25.97h-11.225zM563.65 752.50h11.225v25.97h-11.225zM117.08 778.47h11.225v25.97h-11.225zM173.20 778.47h11.225v25.97h-11.225zM218.10 778.47h11.225v25.97h-11.225zM263.00 778.47h11.225v25.97h-11.225zM350.38 778.47h11.225v25.97h-11.225zM496.30 778.47h11.225v25.97h-11.225zM195.65 804.44h11.225v25.97h-11.225zM296.68 804.44h11.225v25.97h-11.225zM440.17 804.44h11.225v25.97h-11.225zM462.62 804.44h11.225v25.97h-11.225zM473.85 804.44h11.225v25.97h-11.225zM139.52 830.41h11.225v25.97h-11.225zM150.75 830.41h11.225v25.97h-11.225zM384.05 830.41h11.225v25.97h-11.225zM451.40 830.41h11.225v25.97h-11.225zM485.07 830.41h11.225v25.97h-11.225zM507.52 830.41h11.225v25.97h-11.225zM574.88 830.41h11.225v25.97h-11.225zM597.33 830.41h11.225v25.97h-11.225zM608.55 830.41h11.225v25.97h-11.225zM206.88 856.38h11.225v25.97h-11.225zM274.23 856.38h11.225v25.97h-11.225zM296.68 856.38h11.225v25.97h-11.225zM319.12 856.38h11.225v25.97h-11.225zM518.75 856.38h11.225v25.97h-11.225zM574.88 856.38h11.225v25.97h-11.225zM128.30 882.35h11.225v25.97h-11.225zM161.97 882.35h11.225v25.97h-11.225zM274.23 882.35h11.225v25.97h-11.225zM296.68 882.35h11.225v25.97h-11.225zM361.60 882.35h11.225v25.97h-11.225zM372.82 882.35h11.225v25.97h-11.225zM384.05 882.35h11.225v25.97h-11.225zM440.17 882.35h11.225v25.97h-11.225zM83.40 908.32h11.225v25.97h-11.225zM339.15 908.32h11.225v25.97h-11.225zM440.17 908.32h11.225v25.97h-11.225zM496.30 908.32h11.225v25.97h-11.225zM563.65 908.32h11.225v25.97h-11.225zM384.05 934.29h11.225v25.97h-11.225zM395.27 934.29h11.225v25.97h-11.225zM440.17 934.29h11.225v25.97h-11.225zM462.62 934.29h11.225v25.97h-11.225zM485.07 934.29h11.225v25.97h-11.225zM496.30 934.29h11.225v25.97h-11.225zM507.52 934.29h11.225v25.97h-11.225zM541.20 934.29h11.225v25.97h-11.225zM552.42 934.29h11.225v25.97h-11.225zM586.10 934.29h11.225v25.97h-11.225zM274.23 960.26h11.225v25.97h-11.225zM361.60 960.26h11.225v25.97h-11.225zM384.05 960.26h11.225v25.97h-11.225zM440.17 960.26h11.225v25.97h-11.225zM451.40 960.26h11.225v25.97h-11.225zM485.07 960.26h11.225v25.97h-11.225zM541.20 960.26h11.225v25.97h-11.225zM586.10 960.26h11.225v25.97h-11.225zM384.05 986.23h11.225v25.97h-11.225zM395.27 986.23h11.225v25.97h-11.225zM428.95 986.23h11.225v25.97h-11.225zM440.17 986.23h11.225v25.97h-11.225zM507.52 986.23h11.225v25.97h-11.225zM541.20 986.23h11.225v25.97h-11.225zM552.42 986.23h11.225v25.97h-11.225zM372.82 1012.20h11.225v25.97h-11.225zM462.62 1012.20h11.225v25.97h-11.225zM496.30 1012.20h11.225v25.97h-11.225zM552.42 1012.20h11.225v25.97h-11.225zM563.65 1012.20h11.225v25.97h-11.225zM339.15 1038.17h11.225v25.97h-11.225zM417.72 1038.17h11.225v25.97h-11.225zM372.82 1064.14h11.225v25.97h-11.225zM384.05 1064.14h11.225v25.97h-11.225zM406.50 1064.14h11.225v25.97h-11.225zM440.17 1064.14h11.225v25.97h-11.225zM462.62 1064.14h11.225v25.97h-11.225zM496.30 1064.14h11.225v25.97h-11.225zM507.52 1064.14h11.225v25.97h-11.225zM395.27 1090.11h11.225v25.97h-11.225zM496.30 1090.11h11.225v25.97h-11.225zM350.38 1116.08h11.225v25.97h-11.225zM440.17 1116.08h11.225v25.97h-11.225zM507.52 1116.08h11.225v25.97h-11.225zM608.55 1116.08h11.225v25.97h-11.225zM428.95 1142.05h11.225v25.97h-11.225zM440.17 1142.05h11.225v25.97h-11.225zM451.40 1142.05h11.225v25.97h-11.225zM507.52 1142.05h11.225v25.97h-11.225zM563.65 1142.05h11.225v25.97h-11.225zM350.38 1168.02h11.225v25.97h-11.225zM372.82 1168.02h11.225v25.97h-11.225zM384.05 1168.02h11.225v25.97h-11.225zM395.27 1168.02h11.225v25.97h-11.225zM406.50 1168.02h11.225v25.97h-11.225zM428.95 1168.02h11.225v25.97h-11.225zM608.55 1168.02h11.225v25.97h-11.225zM350.38 1193.99h11.225v25.97h-11.225zM395.27 1193.99h11.225v25.97h-11.225zM406.50 1193.99h11.225v25.97h-11.225zM440.17 1193.99h11.225v25.97h-11.225zM507.52 1193.99h11.225v25.97h-11.225zM608.55 1193.99h11.225v25.97h-11.225zM150.75 1219.96h11.225v25.97h-11.225zM350.38 1219.96h11.225v25.97h-11.225zM428.95 1219.96h11.225v25.97h-11.225zM440.17 1219.96h11.225v25.97h-11.225zM473.85 1219.96h11.225v25.97h-11.225zM496.30 1219.96h11.225v25.97h-11.225zM507.52 1219.96h11.225v25.97h-11.225zM574.88 1219.96h11.225v25.97h-11.225zM440.17 1245.93h11.225v25.97h-11.225zM462.62 1245.93h11.225v25.97h-11.225zM563.65 1245.93h11.225v25.97h-11.225zM574.88 1245.93h11.225v25.97h-11.225zM586.10 1245.93h11.225v25.97h-11.225zM195.65 1271.90h11.225v25.97h-11.225zM206.88 1271.90h11.225v25.97h-11.225zM274.23 1271.90h11.225v25.97h-11.225zM350.38 1271.90h11.225v25.97h-11.225zM361.60 1271.90h11.225v25.97h-11.225zM395.27 1271.90h11.225v25.97h-11.225zM451.40 1271.90h11.225v25.97h-11.225zM563.65 1271.90h11.225v25.97h-11.225zM586.10 1271.90h11.225v25.97h-11.225z"/>
<path fill="#E6B3BC" d="M229.32 752.50h11.225v25.97h-11.225zM251.78 752.50h11.225v25.97h-11.225zM263.00 752.50h11.225v25.97h-11.225zM274.23 752.50h11.225v25.97h-11.225zM296.68 752.50h11.225v25.97h-11.225zM361.60 752.50h11.225v25.97h-11.225zM485.07 752.50h11.225v25.97h-11.225zM496.30 752.50h11.225v25.97h-11.225zM161.97 778.47h11.225v25.97h-11.225zM339.15 778.47h11.225v25.97h-11.225zM117.08 804.44h11.225v25.97h-11.225zM139.52 804.44h11.225v25.97h-11.225zM150.75 804.44h11.225v25.97h-11.225zM263.00 804.44h11.225v25.97h-11.225zM339.15 804.44h11.225v25.97h-11.225zM361.60 804.44h11.225v25.97h-11.225zM541.20 804.44h11.225v25.97h-11.225zM608.55 804.44h11.225v25.97h-11.225zM206.88 830.41h11.225v25.97h-11.225zM240.55 830.41h11.225v25.97h-11.225zM150.75 856.38h11.225v25.97h-11.225zM173.20 856.38h11.225v25.97h-11.225zM195.65 856.38h11.225v25.97h-11.225zM240.55 856.38h11.225v25.97h-11.225zM350.38 856.38h11.225v25.97h-11.225zM529.97 856.38h11.225v25.97h-11.225zM83.40 882.35h11.225v25.97h-11.225zM105.85 882.35h11.225v25.97h-11.225zM263.00 882.35h11.225v25.97h-11.225zM285.45 882.35h11.225v25.97h-11.225zM307.90 882.35h11.225v25.97h-11.225zM350.38 882.35h11.225v25.97h-11.225zM372.82 908.32h11.225v25.97h-11.225zM384.05 908.32h11.225v25.97h-11.225zM529.97 908.32h11.225v25.97h-11.225zM428.95 934.29h11.225v25.97h-11.225zM451.40 934.29h11.225v25.97h-11.225zM529.97 934.29h11.225v25.97h-11.225zM563.65 934.29h11.225v25.97h-11.225zM428.95 960.26h11.225v25.97h-11.225zM552.42 960.26h11.225v25.97h-11.225zM451.40 986.23h11.225v25.97h-11.225zM563.65 986.23h11.225v25.97h-11.225zM574.88 986.23h11.225v25.97h-11.225zM586.10 986.23h11.225v25.97h-11.225zM384.05 1012.20h11.225v25.97h-11.225zM428.95 1012.20h11.225v25.97h-11.225zM451.40 1012.20h11.225v25.97h-11.225zM541.20 1012.20h11.225v25.97h-11.225zM395.27 1038.17h11.225v25.97h-11.225zM428.95 1038.17h11.225v25.97h-11.225zM451.40 1038.17h11.225v25.97h-11.225zM563.65 1038.17h11.225v25.97h-11.225zM608.55 1038.17h11.225v25.97h-11.225zM395.27 1064.14h11.225v25.97h-11.225zM428.95 1064.14h11.225v25.97h-11.225zM552.42 1064.14h11.225v25.97h-11.225zM563.65 1064.14h11.225v25.97h-11.225zM574.88 1064.14h11.225v25.97h-11.225zM597.33 1064.14h11.225v25.97h-11.225zM563.65 1090.11h11.225v25.97h-11.225zM586.10 1090.11h11.225v25.97h-11.225zM586.10 1116.08h11.225v25.97h-11.225zM541.20 1142.05h11.225v25.97h-11.225zM552.42 1142.05h11.225v25.97h-11.225zM574.88 1142.05h11.225v25.97h-11.225zM507.52 1168.02h11.225v25.97h-11.225zM541.20 1168.02h11.225v25.97h-11.225zM597.33 1168.02h11.225v25.97h-11.225zM384.05 1193.99h11.225v25.97h-11.225zM428.95 1193.99h11.225v25.97h-11.225zM552.42 1193.99h11.225v25.97h-11.225zM586.10 1193.99h11.225v25.97h-11.225zM240.55 1219.96h11.225v25.97h-11.225zM361.60 1219.96h11.225v25.97h-11.225zM597.33 1219.96h11.225v25.97h-11.225zM608.55 1219.96h11.225v25.97h-11.225zM274.23 1245.93h11.225v25.97h-11.225zM384.05 1245.93h11.225v25.97h-11.225zM451.40 1245.93h11.225v25.97h-11.225zM507.52 1245.93h11.225v25.97h-11.225zM384.05 1271.90h11.225v25.97h-11.225zM507.52 1271.90h11.225v25.97h-11.225zM541.20 1271.90h11.225v25.97h-11.225z"/>
<path fill="#D98D9B" d="M218.10 752.50h11.225v25.97h-11.225zM240.55 752.50h11.225v25.97h-11.225zM395.27 752.50h11.225v25.97h-11.225zM518.75 752.50h11.225v25.97h-11.225zM229.32 778.47h11.225v25.97h-11.225zM274.23 778.47h11.225v25.97h-11.225zM285.45 778.47h11.225v25.97h-11.225zM361.60 778.47h11.225v25.97h-11.225zM128.30 804.44h11.225v25.97h-11.225zM218.10 804.44h11.225v25.97h-11.225zM251.78 804.44h11.225v25.97h-11.225zM350.38 804.44h11.225v25.97h-11.225zM161.97 830.41h11.225v25.97h-11.225zM195.65 830.41h11.225v25.97h-11.225zM229.32 830.41h11.225v25.97h-11.225zM274.23 830.41h11.225v25.97h-11.225zM518.75 830.41h11.225v25.97h-11.225zM117.08 856.38h11.225v25.97h-11.225zM161.97 856.38h11.225v25.97h-11.225zM218.10 856.38h11.225v25.97h-11.225zM451.40 908.32h11.225v25.97h-11.225zM518.75 908.32h11.225v25.97h-11.225zM541.20 908.32h11.225v25.97h-11.225zM574.88 934.29h11.225v25.97h-11.225zM608.55 960.26h11.225v25.97h-11.225zM529.97 986.23h11.225v25.97h-11.225zM608.55 986.23h11.225v25.97h-11.225zM395.27 1012.20h11.225v25.97h-11.225zM462.62 1038.17h11.225v25.97h-11.225zM552.42 1038.17h11.225v25.97h-11.225zM586.10 1038.17h11.225v25.97h-11.225zM518.75 1064.14h11.225v25.97h-11.225zM541.20 1064.14h11.225v25.97h-11.225zM574.88 1090.11h11.225v25.97h-11.225zM563.65 1116.08h11.225v25.97h-11.225zM529.97 1142.05h11.225v25.97h-11.225zM586.10 1142.05h11.225v25.97h-11.225zM608.55 1142.05h11.225v25.97h-11.225zM552.42 1168.02h11.225v25.97h-11.225zM586.10 1168.02h11.225v25.97h-11.225zM372.82 1193.99h11.225v25.97h-11.225zM563.65 1193.99h11.225v25.97h-11.225zM574.88 1193.99h11.225v25.97h-11.225zM597.33 1193.99h11.225v25.97h-11.225zM384.05 1219.96h11.225v25.97h-11.225zM395.27 1219.96h11.225v25.97h-11.225zM518.75 1219.96h11.225v25.97h-11.225zM563.65 1219.96h11.225v25.97h-11.225zM395.27 1245.93h11.225v25.97h-11.225zM552.42 1271.90h11.225v25.97h-11.225z"/>
<path fill="#CC6776" d="M296.68 778.47h11.225v25.97h-11.225zM307.90 778.47h11.225v25.97h-11.225zM319.12 778.47h11.225v25.97h-11.225zM384.05 778.47h11.225v25.97h-11.225zM240.55 804.44h11.225v25.97h-11.225zM428.95 804.44h11.225v25.97h-11.225zM339.15 830.41h11.225v25.97h-11.225zM339.15 856.38h11.225v25.97h-11.225zM361.60 856.38h11.225v25.97h-11.225zM229.32 882.35h11.225v25.97h-11.225zM395.27 908.32h11.225v25.97h-11.225zM574.88 908.32h11.225v25.97h-11.225zM586.10 908.32h11.225v25.97h-11.225zM563.65 960.26h11.225v25.97h-11.225zM574.88 960.26h11.225v25.97h-11.225zM574.88 1012.20h11.225v25.97h-11.225zM586.10 1012.20h11.225v25.97h-11.225zM608.55 1012.20h11.225v25.97h-11.225zM518.75 1038.17h11.225v25.97h-11.225zM529.97 1038.17h11.225v25.97h-11.225zM541.20 1038.17h11.225v25.97h-11.225zM586.10 1064.14h11.225v25.97h-11.225zM608.55 1064.14h11.225v25.97h-11.225zM541.20 1090.11h11.225v25.97h-11.225zM518.75 1116.08h11.225v25.97h-11.225zM541.20 1116.08h11.225v25.97h-11.225zM574.88 1116.08h11.225v25.97h-11.225zM529.97 1168.02h11.225v25.97h-11.225zM563.65 1168.02h11.225v25.97h-11.225zM574.88 1168.02h11.225v25.97h-11.225zM529.97 1245.93h11.225v25.97h-11.225zM608.55 1245.93h11.225v25.97h-11.225z"/>
<path fill="#C04151" d="M350.38 752.50h11.225v25.97h-11.225zM240.55 778.47h11.225v25.97h-11.225zM229.32 804.44h11.225v25.97h-11.225zM184.42 830.41h11.225v25.97h-11.225zM541.20 856.38h11.225v25.97h-11.225zM240.55 882.35h11.225v25.97h-11.225zM597.33 908.32h11.225v25.97h-11.225zM597.33 934.29h11.225v25.97h-11.225zM608.55 934.29h11.225v25.97h-11.225zM597.33 986.23h11.225v25.97h-11.225zM518.75 1012.20h11.225v25.97h-11.225zM597.33 1012.20h11.225v25.97h-11.225zM574.88 1038.17h11.225v25.97h-11.225zM597.33 1038.17h11.225v25.97h-11.225zM552.42 1090.11h11.225v25.97h-11.225zM597.33 1090.11h11.225v25.97h-11.225zM529.97 1116.08h11.225v25.97h-11.225zM597.33 1116.08h11.225v25.97h-11.225zM597.33 1142.05h11.225v25.97h-11.225zM597.33 1245.93h11.225v25.97h-11.225zM597.33 1271.90h11.225v25.97h-11.225z"/>
<path fill="#B31B2C" d="M384.05 752.50h11.225v25.97h-11.225zM218.10 830.41h11.225v25.97h-11.225zM229.32 856.38h11.225v25.97h-11.225zM218.10 882.35h11.225v25.97h-11.225zM251.78 882.35h11.225v25.97h-11.225zM608.55 908.32h11.225v25.97h-11.225zM518.75 934.29h11.225v25.97h-11.225zM518.75 960.26h11.225v25.97h-11.225zM597.33 960.26h11.225v25.97h-11.225zM518.75 986.23h11.225v25.97h-11.225zM529.97 1012.20h11.225v25.97h-11.225zM529.97 1064.14h11.225v25.97h-11.225zM518.75 1090.11h11.225v25.97h-11.225zM529.97 1090.11h11.225v25.97h-11.225zM552.42 1116.08h11.225v25.97h-11.225zM518.75 1142.05h11.225v25.97h-11.225zM518.75 1168.02h11.225v25.97h-11.225zM518.75 1193.99h11.225v25.97h-11.225zM529.97 1193.99h11.225v25.97h-11.225zM372.82 1219.96h11.225v25.97h-11.225zM529.97 1219.96h11.225v25.97h-11.225zM518.75 1245.93h11.225v25.97h-11.225zM518.75 1271.90h11.225v25.97h-11.225zM529.97 1271.90h11.225v25.97h-11.225z"/>
<path fill="none" stroke="#CDCDCD" stroke-width="1.4" stroke-linecap="square" d="M38.50 752.5V1297.87M49.73 752.5V1297.87M60.95 752.5V1297.87M72.17 752.5V1297.87M83.40 752.5V1297.87M94.62 752.5V1297.87M105.85 752.5V1297.87M117.08 752.5V1297.87M128.30 752.5V1297.87M139.52 752.5V1297.87M150.75 752.5V1297.87M161.97 752.5V1297.87M173.20 752.5V1297.87M184.42 752.5V1297.87M195.65 752.5V1297.87M206.88 752.5V1297.87M218.10 752.5V1297.87M229.32 752.5V1297.87M240.55 752.5V1297.87M251.78 752.5V1297.87M263.00 752.5V1297.87M274.23 752.5V1297.87M285.45 752.5V1297.87M296.68 752.5V1297.87M307.90 752.5V1297.87M319.12 752.5V1297.87M330.35 752.5V1297.87M339.15 752.5V1297.87M350.38 752.5V1297.87M361.60 752.5V1297.87M372.82 752.5V1297.87M384.05 752.5V1297.87M395.27 752.5V1297.87M406.50 752.5V1297.87M417.72 752.5V1297.87M428.95 752.5V1297.87M440.17 752.5V1297.87M451.40 752.5V1297.87M462.62 752.5V1297.87M473.85 752.5V1297.87M485.07 752.5V1297.87M496.30 752.5V1297.87M507.52 752.5V1297.87M518.75 752.5V1297.87M529.97 752.5V1297.87M541.20 752.5V1297.87M552.42 752.5V1297.87M563.65 752.5V1297.87M574.88 752.5V1297.87M586.10 752.5V1297.87M597.33 752.5V1297.87M608.55 752.5V1297.87M619.77 752.5V1297.87M38.5 752.50H330.35M339.15 752.50H619.77M38.5 778.47H330.35M339.15 778.47H619.77M38.5 804.44H330.35M339.15 804.44H619.77M38.5 830.41H330.35M339.15 830.41H619.77M38.5 856.38H330.35M339.15 856.38H619.77M38.5 882.35H330.35M339.15 882.35H619.77M38.5 908.32H330.35M339.15 908.32H619.77M38.5 934.29H330.35M339.15 934.29H619.77M38.5 960.26H330.35M339.15 960.26H619.77M38.5 986.23H330.35M339.15 986.23H619.77M38.5 1012.20H330.35M339.15 1012.20H619.77M38.5 1038.17H330.35M339.15 1038.17H619.77M38.5 1064.14H330.35M339.15 1064.14H619.77M38.5 1090.11H330.35M339.15 1090.11H619.77M38.5 1116.08H330.35M339.15 1116.08H619.77M38.5 1142.05H330.35M339.15 1142.05H619.77M38.5 1168.02H330.35M339.15 1168.02H619.77M38.5 1193.99H330.35M339.15 1193.99H619.77M38.5 1219.96H330.35M339.15 1219.96H619.77M38.5 1245.93H330.35M339.15 1245.93H619.77M38.5 1271.90H330.35M339.15 1271.90H619.77M38.5 1297.87H330.35M339.15 1297.87H619.77"/>
<rect x="38.5" y="723.7" width="291.85" height="22.00" fill="#58A3DE"/>
<rect x="339.15" y="723.7" width="280.62" height="22.00" fill="#E64B3E"/>
<path fill="none" stroke="#CDCDCD" stroke-width="1.4" stroke-linecap="square" d="M38.50 723.7V745.7M49.73 723.7V745.7M60.95 723.7V745.7M72.17 723.7V745.7M83.40 723.7V745.7M94.62 723.7V745.7M105.85 723.7V745.7M117.08 723.7V745.7M128.30 723.7V745.7M139.52 723.7V745.7M150.75 723.7V745.7M161.97 723.7V745.7M173.20 723.7V745.7M184.42 723.7V745.7M195.65 723.7V745.7M206.88 723.7V745.7M218.10 723.7V745.7M229.32 723.7V745.7M240.55 723.7V745.7M251.78 723.7V745.7M263.00 723.7V745.7M274.23 723.7V745.7M285.45 723.7V745.7M296.68 723.7V745.7M307.90 723.7V745.7M319.12 723.7V745.7M330.35 723.7V745.7M339.15 723.7V745.7M350.38 723.7V745.7M361.60 723.7V745.7M372.82 723.7V745.7M384.05 723.7V745.7M395.27 723.7V745.7M406.50 723.7V745.7M417.72 723.7V745.7M428.95 723.7V745.7M440.17 723.7V745.7M451.40 723.7V745.7M462.62 723.7V745.7M473.85 723.7V745.7M485.07 723.7V745.7M496.30 723.7V745.7M507.52 723.7V745.7M518.75 723.7V745.7M529.97 723.7V745.7M541.20 723.7V745.7M552.42 723.7V745.7M563.65 723.7V745.7M574.88 723.7V745.7M586.10 723.7V745.7M597.33 723.7V745.7M608.55 723.7V745.7M619.77 723.7V745.7M38.5 723.7H330.35M339.15 723.7H619.77M38.5 745.7H330.35M339.15 745.7H619.77"/>
<rect x="10.1" y="752.5" width="20.80" height="155.82" fill="#7AB74B"/>
<rect x="10.1" y="908.32" width="20.80" height="389.55" fill="#5578C8"/>
<path fill="none" stroke="#D2CEDA" stroke-width="1.4" stroke-linecap="square" d="M10.1 752.5V1297.87M30.9 752.5V1297.87M10.1 752.50H30.9M10.1 778.47H30.9M10.1 804.44H30.9M10.1 830.41H30.9M10.1 856.38H30.9M10.1 882.35H30.9M10.1 908.32H30.9M10.1 934.29H30.9M10.1 960.26H30.9M10.1 986.23H30.9M10.1 1012.20H30.9M10.1 1038.17H30.9M10.1 1064.14H30.9M10.1 1090.11H30.9M10.1 1116.08H30.9M10.1 1142.05H30.9M10.1 1168.02H30.9M10.1 1193.99H30.9M10.1 1219.96H30.9M10.1 1245.93H30.9M10.1 1271.90H30.9M10.1 1297.87H30.9"/>
<g font-size="17.8" fill="#000">
<text x="626.6" y="767.8">PC(18:0/18:0)</text>
<text x="626.6" y="793.8">PE(O/16:0/18:1)</text>
<text x="626.6" y="819.7">Hex2Cer(18:1/16:0)</text>
<text x="626.6" y="845.7">Hex2Cer(18:1/22:0)</text>
<text x="626.6" y="871.7">HexCer(18:0/24:0)</text>
<text x="626.6" y="897.6">PE(P/18:1/20:1)</text>
<text x="626.6" y="923.6" textLength="151.6" lengthAdjust="spacingAndGlyphs">TAG(52:2)_FA14:0</text>
<text x="626.6" y="949.6" textLength="151.6" lengthAdjust="spacingAndGlyphs">TAG(56:6)_FA18:1</text>
<text x="626.6" y="975.5" textLength="151.6" lengthAdjust="spacingAndGlyphs">TAG(56:6)_FA20:5</text>
<text x="626.6" y="1001.5" textLength="151.6" lengthAdjust="spacingAndGlyphs">TAG(56:6)_FA22:5</text>
<text x="626.6" y="1027.5" textLength="151.6" lengthAdjust="spacingAndGlyphs">TAG(50:2)_FA14:0</text>
<text x="626.6" y="1053.5" textLength="151.6" lengthAdjust="spacingAndGlyphs">TAG(50:2)_FA18:1</text>
<text x="626.6" y="1079.4" textLength="151.6" lengthAdjust="spacingAndGlyphs">TAG(51:4)_FA18:3</text>
<text x="626.6" y="1105.4" textLength="151.6" lengthAdjust="spacingAndGlyphs">TAG(52:5)_FA20:5</text>
<text x="626.6" y="1131.4" textLength="151.6" lengthAdjust="spacingAndGlyphs">TAG(54:7)_FA20:5</text>
<text x="626.6" y="1157.3" textLength="151.6" lengthAdjust="spacingAndGlyphs">TAG(56:6)_FA16:0</text>
<text x="626.6" y="1183.3" textLength="151.6" lengthAdjust="spacingAndGlyphs">TAG(56:9)_FA18:3</text>
<text x="626.6" y="1209.3" textLength="151.6" lengthAdjust="spacingAndGlyphs">TAG(56:9)_FA22:6</text>
<text x="626.6" y="1235.2" textLength="161.8" lengthAdjust="spacingAndGlyphs">TAG(58:10)_FA22:6</text>
<text x="626.6" y="1261.2" textLength="151.6" lengthAdjust="spacingAndGlyphs">TAG(58:6)_FA18:0</text>
<text x="626.6" y="1287.2" textLength="151.6" lengthAdjust="spacingAndGlyphs">TAG(58:7)_FA16:0</text>
</g>
<text x="627.3" y="737.5" font-size="21" font-weight="bold" textLength="126.5" lengthAdjust="spacingAndGlyphs">HBP_Status</text>
<defs><linearGradient id="hg" x1="0" y1="0" x2="0" y2="1"><stop offset="0" stop-color="#B31B2C"/><stop offset="0.25" stop-color="#D98D9B"/><stop offset="0.5" stop-color="#fff"/><stop offset="0.75" stop-color="#9DBEDD"/><stop offset="1" stop-color="#3E70B2"/></linearGradient></defs>
<rect x="803.7" y="722.1" width="22.3" height="324.7" fill="url(#hg)"/>
<g font-size="21.5" fill="#000">
<text x="835.3" y="1051.4">-3</text>
<text x="835.3" y="997.2">-2</text>
<text x="835.3" y="943.0">-1</text>
<text x="835.0" y="888.8">0</text>
<text x="835.0" y="834.6">1</text>
<text x="835.0" y="780.5">2</text>
<text x="835.0" y="726.3">3</text>
</g>
<text x="807" y="1079.2" font-size="21" font-weight="bold" textLength="113.8" lengthAdjust="spacingAndGlyphs">Regulation</text>
<text x="810" y="1183" font-size="21" font-weight="bold" textLength="120.3" lengthAdjust="spacingAndGlyphs">HBP Status</text>
<rect x="806.5" y="1091.9" width="31.1" height="31.2" fill="#7AB74B" stroke="#CFCFCF" stroke-width="1.5"/>
<rect x="806.5" y="1123.1" width="31.1" height="31.2" fill="#5578C8" stroke="#CFCFCF" stroke-width="1.5"/>
<rect x="806.5" y="1200.6" width="31.1" height="31.2" fill="#58A3DE" stroke="#CFCFCF" stroke-width="1.5"/>
<rect x="806.5" y="1231.8" width="31.1" height="31.2" fill="#E64B3E" stroke="#CFCFCF" stroke-width="1.5"/>
<text x="845" y="1109.2" font-size="21.3" textLength="128.0" lengthAdjust="spacingAndGlyphs">Up-regulated</text>
<text x="845" y="1140.5" font-size="21.3" textLength="156.7" lengthAdjust="spacingAndGlyphs">Down-regulated</text>
<text x="845" y="1220.5" font-size="21.3" textLength="70.3" lengthAdjust="spacingAndGlyphs">Control</text>
<text x="845" y="1251.7" font-size="21.3" textLength="50.8" lengthAdjust="spacingAndGlyphs">Case</text>
<rect x="1102.0" y="743.3" width="402.0" height="24.3" fill="#D9D9D9"/>
<rect x="1102.0" y="767.6" width="402.0" height="145.2" fill="#fff"/>
<path d="M1102.0 794.2H1504.0M1102.0 827.5H1504.0M1102.0 860.8H1504.0M1102.0 894.1H1504.0" stroke="#F0F0F0" stroke-width="1.6" fill="none"/>
<path d="M1102.0 777.6H1504.0M1102.0 810.9H1504.0M1102.0 843.9H1504.0M1102.0 877.4H1504.0M1102.0 910.2H1504.0M1211.4 767.6V912.8M1394.4 767.6V912.8" stroke="#EBEBEB" stroke-width="2.6" fill="none"/>
<path d="M1211.4 811.3V837.0M1211.4 887.8V905.7" stroke="#333333" stroke-width="2.2" fill="none"/>
<rect x="1142.6" y="837.2" width="138.3" height="50.4" fill="#7FBEE4" stroke="#333333" stroke-width="2.2"/>
<path d="M1142.6 867.6H1281.0" stroke="#333333" stroke-width="4.5" fill="none"/>
<path d="M1394.4 815.6V837.6M1394.4 867.4V895.1" stroke="#333333" stroke-width="2.2" fill="none"/>
<rect x="1325.6" y="837.8" width="137.9" height="29.4" fill="#E47A74" stroke="#333333" stroke-width="2.2"/>
<path d="M1325.6 858.2H1463.5" stroke="#333333" stroke-width="4.5" fill="none"/>
<g fill="#4FA3E0" fill-opacity="0.78" stroke="#4FA3E0" stroke-opacity="0.55" stroke-width="0.9"><ellipse cx="1183.2" cy="810.5" rx="4.8" ry="3"/><ellipse cx="1195.5" cy="815.2" rx="4.8" ry="3"/><ellipse cx="1191.8" cy="826.6" rx="4.8" ry="3"/><ellipse cx="1192.0" cy="829.9" rx="4.8" ry="3"/><ellipse cx="1222.6" cy="825.0" rx="4.8" ry="3"/><ellipse cx="1215.9" cy="830.3" rx="4.8" ry="3"/><ellipse cx="1240.6" cy="834.7" rx="4.8" ry="3"/><ellipse cx="1177.7" cy="843.9" rx="4.8" ry="3"/><ellipse cx="1247.9" cy="858.8" rx="4.8" ry="3"/><ellipse cx="1226.1" cy="860.9" rx="4.8" ry="3"/><ellipse cx="1212.8" cy="864.1" rx="4.8" ry="3"/><ellipse cx="1203.6" cy="865.3" rx="4.8" ry="3"/><ellipse cx="1181.0" cy="865.6" rx="4.8" ry="3"/><ellipse cx="1205.7" cy="870.2" rx="4.8" ry="3"/><ellipse cx="1199.8" cy="873.5" rx="4.8" ry="3"/><ellipse cx="1214.2" cy="875.8" rx="4.8" ry="3"/><ellipse cx="1217.7" cy="877.6" rx="4.8" ry="3"/><ellipse cx="1192.6" cy="879.6" rx="4.8" ry="3"/><ellipse cx="1183.8" cy="882.9" rx="4.8" ry="3"/><ellipse cx="1237.1" cy="888.6" rx="4.8" ry="3"/><ellipse cx="1241.4" cy="891.9" rx="4.8" ry="3"/><ellipse cx="1183.2" cy="896.6" rx="4.8" ry="3"/><ellipse cx="1221.6" cy="896.2" rx="4.8" ry="3"/><ellipse cx="1191.4" cy="900.6" rx="4.8" ry="3"/><ellipse cx="1195.1" cy="906.1" rx="4.8" ry="3"/></g>
<g fill="#E8463C" fill-opacity="0.78" stroke="#E8463C" stroke-opacity="0.55" stroke-width="0.9"><ellipse cx="1425.0" cy="774.2" rx="4.8" ry="3"/><ellipse cx="1357.9" cy="786.0" rx="4.8" ry="3"/><ellipse cx="1385.6" cy="815.0" rx="4.8" ry="3"/><ellipse cx="1429.7" cy="822.3" rx="4.8" ry="3"/><ellipse cx="1424.8" cy="824.8" rx="4.8" ry="3"/><ellipse cx="1404.8" cy="830.3" rx="4.8" ry="3"/><ellipse cx="1396.0" cy="837.8" rx="4.8" ry="3"/><ellipse cx="1411.5" cy="839.8" rx="4.8" ry="3"/><ellipse cx="1414.2" cy="840.5" rx="4.8" ry="3"/><ellipse cx="1366.4" cy="854.7" rx="4.8" ry="3"/><ellipse cx="1394.8" cy="853.3" rx="4.8" ry="3"/><ellipse cx="1413.7" cy="855.8" rx="4.8" ry="3"/><ellipse cx="1378.5" cy="858.4" rx="4.8" ry="3"/><ellipse cx="1428.0" cy="858.2" rx="4.8" ry="3"/><ellipse cx="1394.4" cy="860.2" rx="4.8" ry="3"/><ellipse cx="1372.5" cy="862.3" rx="4.8" ry="3"/><ellipse cx="1375.8" cy="865.3" rx="4.8" ry="3"/><ellipse cx="1374.6" cy="867.4" rx="4.8" ry="3"/><ellipse cx="1416.8" cy="866.0" rx="4.8" ry="3"/><ellipse cx="1426.0" cy="867.4" rx="4.8" ry="3"/><ellipse cx="1427.8" cy="873.9" rx="4.8" ry="3"/><ellipse cx="1410.3" cy="878.0" rx="4.8" ry="3"/><ellipse cx="1417.6" cy="886.6" rx="4.8" ry="3"/><ellipse cx="1423.5" cy="895.5" rx="4.8" ry="3"/><ellipse cx="1430.9" cy="895.1" rx="4.8" ry="3"/></g>
<rect x="1102.0" y="743.3" width="402.0" height="24.3" fill="none" stroke="#333333" stroke-width="2"/>
<rect x="1102.0" y="767.6" width="402.0" height="145.2" fill="none" stroke="#333333" stroke-width="2"/>
<text x="1238.7" y="765.2" font-size="19" font-weight="bold" textLength="128.6" lengthAdjust="spacingAndGlyphs" fill="#1A1A1A">PC(18:0/18:0)</text>
<path d="M1095.4 777.6H1101.1M1095.4 810.9H1101.1M1095.4 843.9H1101.1M1095.4 877.4H1101.1M1095.4 910.2H1101.1" stroke="#333333" stroke-width="2" fill="none"/>
<g font-size="20.8" fill="#4D4D4D"><text x="1042.9" y="784.1" textLength="43.9" lengthAdjust="spacingAndGlyphs">1000</text><text x="1053.8" y="817.4" textLength="33.0" lengthAdjust="spacingAndGlyphs">800</text><text x="1053.8" y="850.4" textLength="33.0" lengthAdjust="spacingAndGlyphs">600</text><text x="1053.8" y="883.9" textLength="33.0" lengthAdjust="spacingAndGlyphs">400</text><text x="1053.8" y="916.7" textLength="33.0" lengthAdjust="spacingAndGlyphs">200</text></g>
<rect x="1102.0" y="920.0" width="402.0" height="24.2" fill="#D9D9D9"/>
<rect x="1102.0" y="944.3" width="402.0" height="145.2" fill="#fff"/>
<path d="M1102.0 958.0H1504.0M1102.0 986.8H1504.0M1102.0 1015.7H1504.0M1102.0 1044.6H1504.0M1102.0 1073.4H1504.0" stroke="#F0F0F0" stroke-width="1.6" fill="none"/>
<path d="M1102.0 972.4H1504.0M1102.0 1001.3H1504.0M1102.0 1030.1H1504.0M1102.0 1059.0H1504.0M1102.0 1088.1H1504.0M1211.4 944.3V1089.5M1394.4 944.3V1089.5" stroke="#EBEBEB" stroke-width="2.6" fill="none"/>
<path d="M1211.4 1035.2V1054.6M1211.4 1072.8V1082.4" stroke="#333333" stroke-width="2.2" fill="none"/>
<rect x="1142.6" y="1054.8" width="138.3" height="17.8" fill="#7FBEE4" stroke="#333333" stroke-width="2.2"/>
<path d="M1142.6 1064.0H1281.0" stroke="#333333" stroke-width="4.5" fill="none"/>
<path d="M1394.4 963.0V995.0M1394.4 1045.0V1053.2" stroke="#333333" stroke-width="2.2" fill="none"/>
<rect x="1325.6" y="995.2" width="137.9" height="49.6" fill="#E47A74" stroke="#333333" stroke-width="2.2"/>
<path d="M1325.6 1032.0H1463.5" stroke="#333333" stroke-width="4.5" fill="none"/>
<g fill="#4FA3E0" fill-opacity="0.78" stroke="#4FA3E0" stroke-opacity="0.55" stroke-width="0.9"><ellipse cx="1231.8" cy="1034.8" rx="4.8" ry="3"/><ellipse cx="1218.9" cy="1040.7" rx="4.8" ry="3"/><ellipse cx="1224.4" cy="1046.7" rx="4.8" ry="3"/><ellipse cx="1203.8" cy="1049.9" rx="4.8" ry="3"/><ellipse cx="1180.6" cy="1052.6" rx="4.8" ry="3"/><ellipse cx="1229.9" cy="1053.4" rx="4.8" ry="3"/><ellipse cx="1219.3" cy="1054.6" rx="4.8" ry="3"/><ellipse cx="1205.1" cy="1056.2" rx="4.8" ry="3"/><ellipse cx="1214.2" cy="1057.5" rx="4.8" ry="3"/><ellipse cx="1184.7" cy="1060.9" rx="4.8" ry="3"/><ellipse cx="1188.1" cy="1062.2" rx="4.8" ry="3"/><ellipse cx="1206.7" cy="1065.6" rx="4.8" ry="3"/><ellipse cx="1231.2" cy="1068.7" rx="4.8" ry="3"/><ellipse cx="1239.3" cy="1070.1" rx="4.8" ry="3"/><ellipse cx="1199.1" cy="1070.1" rx="4.8" ry="3"/><ellipse cx="1213.2" cy="1070.5" rx="4.8" ry="3"/><ellipse cx="1244.4" cy="1070.9" rx="4.8" ry="3"/><ellipse cx="1247.3" cy="1072.8" rx="4.8" ry="3"/><ellipse cx="1192.8" cy="1072.2" rx="4.8" ry="3"/><ellipse cx="1206.1" cy="1073.6" rx="4.8" ry="3"/><ellipse cx="1201.6" cy="1074.6" rx="4.8" ry="3"/><ellipse cx="1214.2" cy="1075.0" rx="4.8" ry="3"/><ellipse cx="1194.2" cy="1076.0" rx="4.8" ry="3"/><ellipse cx="1202.6" cy="1082.8" rx="4.8" ry="3"/><ellipse cx="1217.3" cy="1056.2" rx="4.8" ry="3"/><ellipse cx="1210.2" cy="1058.3" rx="4.8" ry="3"/></g>
<g fill="#E8463C" fill-opacity="0.78" stroke="#E8463C" stroke-opacity="0.55" stroke-width="0.9"><ellipse cx="1399.5" cy="962.8" rx="4.8" ry="3"/><ellipse cx="1364.8" cy="973.4" rx="4.8" ry="3"/><ellipse cx="1376.6" cy="979.1" rx="4.8" ry="3"/><ellipse cx="1385.6" cy="982.4" rx="4.8" ry="3"/><ellipse cx="1404.8" cy="987.9" rx="4.8" ry="3"/><ellipse cx="1380.5" cy="994.2" rx="4.8" ry="3"/><ellipse cx="1382.1" cy="995.7" rx="4.8" ry="3"/><ellipse cx="1392.1" cy="995.9" rx="4.8" ry="3"/><ellipse cx="1392.9" cy="1008.9" rx="4.8" ry="3"/><ellipse cx="1426.0" cy="1011.4" rx="4.8" ry="3"/><ellipse cx="1377.8" cy="1019.3" rx="4.8" ry="3"/><ellipse cx="1386.0" cy="1029.3" rx="4.8" ry="3"/><ellipse cx="1371.9" cy="1032.8" rx="4.8" ry="3"/><ellipse cx="1418.2" cy="1031.6" rx="4.8" ry="3"/><ellipse cx="1424.4" cy="1033.4" rx="4.8" ry="3"/><ellipse cx="1423.9" cy="1036.9" rx="4.8" ry="3"/><ellipse cx="1390.3" cy="1037.9" rx="4.8" ry="3"/><ellipse cx="1404.0" cy="1043.8" rx="4.8" ry="3"/><ellipse cx="1376.2" cy="1046.0" rx="4.8" ry="3"/><ellipse cx="1390.7" cy="1044.0" rx="4.8" ry="3"/><ellipse cx="1392.1" cy="1046.0" rx="4.8" ry="3"/><ellipse cx="1425.6" cy="1048.1" rx="4.8" ry="3"/><ellipse cx="1361.9" cy="1053.2" rx="4.8" ry="3"/><ellipse cx="1395.4" cy="1053.6" rx="4.8" ry="3"/><ellipse cx="1367.6" cy="1055.8" rx="4.8" ry="3"/></g>
<path d="M1214.2 957.5H1396.8" stroke="#000" stroke-width="2.2" fill="none"/>
<text x="1305.5" y="961.1" font-size="20.5" text-anchor="middle" fill="#000">***</text>
<rect x="1102.0" y="920.0" width="402.0" height="24.2" fill="none" stroke="#333333" stroke-width="2"/>
<rect x="1102.0" y="944.3" width="402.0" height="145.2" fill="none" stroke="#333333" stroke-width="2"/>
<text x="1216.3" y="937.0" font-size="19" font-weight="bold" textLength="173.4" lengthAdjust="spacingAndGlyphs" fill="#1A1A1A">TAG(52:2)_FA14:0</text>
<path d="M1095.4 972.4H1101.1M1095.4 1001.3H1101.1M1095.4 1030.1H1101.1M1095.4 1059.0H1101.1M1095.4 1088.1H1101.1" stroke="#333333" stroke-width="2" fill="none"/>
<g font-size="20.8" fill="#4D4D4D"><text x="1053.8" y="978.9" textLength="33.0" lengthAdjust="spacingAndGlyphs">400</text><text x="1053.8" y="1007.8" textLength="33.0" lengthAdjust="spacingAndGlyphs">300</text><text x="1053.8" y="1036.6" textLength="33.0" lengthAdjust="spacingAndGlyphs">200</text><text x="1053.8" y="1065.5" textLength="33.0" lengthAdjust="spacingAndGlyphs">100</text><text x="1075.8" y="1094.6" textLength="11.0" lengthAdjust="spacingAndGlyphs">0</text></g>
<rect x="1102.0" y="1096.8" width="402.0" height="24.2" fill="#D9D9D9"/>
<rect x="1102.0" y="1121.0" width="402.0" height="145.1" fill="#fff"/>
<path d="M1102.0 1139.8H1504.0M1102.0 1175.3H1504.0M1102.0 1210.9H1504.0M1102.0 1246.5H1504.0" stroke="#F0F0F0" stroke-width="1.6" fill="none"/>
<path d="M1102.0 1157.6H1504.0M1102.0 1192.6H1504.0M1102.0 1227.8H1504.0M1102.0 1262.9H1504.0M1211.4 1121.0V1266.1M1394.4 1121.0V1266.1" stroke="#EBEBEB" stroke-width="2.6" fill="none"/>
<path d="M1211.4 1231.8V1238.3M1211.4 1245.9V1251.6" stroke="#333333" stroke-width="2.2" fill="none"/>
<rect x="1142.6" y="1238.5" width="138.3" height="7.1" fill="#7FBEE4" stroke="#333333" stroke-width="2.2"/>
<path d="M1142.6 1242.0H1281.0" stroke="#333333" stroke-width="4.5" fill="none"/>
<path d="M1394.4 1182.9V1209.4M1394.4 1229.2V1241.6" stroke="#333333" stroke-width="2.2" fill="none"/>
<rect x="1325.6" y="1209.6" width="137.9" height="19.4" fill="#E47A74" stroke="#333333" stroke-width="2.2"/>
<path d="M1325.6 1220.8H1463.5" stroke="#333333" stroke-width="4.5" fill="none"/>
<g fill="#4FA3E0" fill-opacity="0.78" stroke="#4FA3E0" stroke-opacity="0.55" stroke-width="0.9"><ellipse cx="1179.6" cy="1218.3" rx="4.8" ry="3"/><ellipse cx="1177.1" cy="1225.3" rx="4.8" ry="3"/><ellipse cx="1182.4" cy="1224.9" rx="4.8" ry="3"/><ellipse cx="1180.0" cy="1231.4" rx="4.8" ry="3"/><ellipse cx="1203.6" cy="1235.1" rx="4.8" ry="3"/><ellipse cx="1232.0" cy="1234.3" rx="4.8" ry="3"/><ellipse cx="1219.7" cy="1237.9" rx="4.8" ry="3"/><ellipse cx="1188.1" cy="1239.8" rx="4.8" ry="3"/><ellipse cx="1191.2" cy="1241.8" rx="4.8" ry="3"/><ellipse cx="1197.9" cy="1241.4" rx="4.8" ry="3"/><ellipse cx="1208.1" cy="1240.2" rx="4.8" ry="3"/><ellipse cx="1233.6" cy="1240.2" rx="4.8" ry="3"/><ellipse cx="1226.5" cy="1241.4" rx="4.8" ry="3"/><ellipse cx="1230.6" cy="1242.0" rx="4.8" ry="3"/><ellipse cx="1222.0" cy="1242.8" rx="4.8" ry="3"/><ellipse cx="1217.3" cy="1243.4" rx="4.8" ry="3"/><ellipse cx="1226.9" cy="1245.5" rx="4.8" ry="3"/><ellipse cx="1201.4" cy="1245.9" rx="4.8" ry="3"/><ellipse cx="1203.6" cy="1247.7" rx="4.8" ry="3"/><ellipse cx="1242.8" cy="1246.5" rx="4.8" ry="3"/><ellipse cx="1225.5" cy="1250.4" rx="4.8" ry="3"/><ellipse cx="1217.5" cy="1252.0" rx="4.8" ry="3"/><ellipse cx="1181.4" cy="1259.6" rx="4.8" ry="3"/><ellipse cx="1211.2" cy="1241.4" rx="4.8" ry="3"/><ellipse cx="1222.4" cy="1240.4" rx="4.8" ry="3"/><ellipse cx="1214.2" cy="1241.4" rx="4.8" ry="3"/></g>
<g fill="#E8463C" fill-opacity="0.78" stroke="#E8463C" stroke-opacity="0.55" stroke-width="0.9"><ellipse cx="1403.3" cy="1139.4" rx="4.8" ry="3"/><ellipse cx="1361.3" cy="1157.6" rx="4.8" ry="3"/><ellipse cx="1407.8" cy="1177.3" rx="4.8" ry="3"/><ellipse cx="1426.6" cy="1182.2" rx="4.8" ry="3"/><ellipse cx="1364.2" cy="1189.0" rx="4.8" ry="3"/><ellipse cx="1379.5" cy="1205.1" rx="4.8" ry="3"/><ellipse cx="1361.9" cy="1209.6" rx="4.8" ry="3"/><ellipse cx="1362.5" cy="1213.2" rx="4.8" ry="3"/><ellipse cx="1371.3" cy="1212.4" rx="4.8" ry="3"/><ellipse cx="1423.3" cy="1216.3" rx="4.8" ry="3"/><ellipse cx="1430.5" cy="1216.1" rx="4.8" ry="3"/><ellipse cx="1422.3" cy="1218.6" rx="4.8" ry="3"/><ellipse cx="1405.4" cy="1220.4" rx="4.8" ry="3"/><ellipse cx="1429.5" cy="1220.4" rx="4.8" ry="3"/><ellipse cx="1410.5" cy="1222.6" rx="4.8" ry="3"/><ellipse cx="1381.9" cy="1224.3" rx="4.8" ry="3"/><ellipse cx="1422.9" cy="1225.1" rx="4.8" ry="3"/><ellipse cx="1417.8" cy="1225.5" rx="4.8" ry="3"/><ellipse cx="1419.3" cy="1228.5" rx="4.8" ry="3"/><ellipse cx="1359.1" cy="1229.4" rx="4.8" ry="3"/><ellipse cx="1366.2" cy="1229.8" rx="4.8" ry="3"/><ellipse cx="1384.6" cy="1229.8" rx="4.8" ry="3"/><ellipse cx="1373.6" cy="1236.5" rx="4.8" ry="3"/><ellipse cx="1418.4" cy="1236.3" rx="4.8" ry="3"/><ellipse cx="1406.0" cy="1241.6" rx="4.8" ry="3"/></g>
<path d="M1214.2 1133.9H1396.8" stroke="#000" stroke-width="2.2" fill="none"/>
<text x="1305.5" y="1137.5" font-size="20.5" text-anchor="middle" fill="#000">***</text>
<rect x="1102.0" y="1096.8" width="402.0" height="24.2" fill="none" stroke="#333333" stroke-width="2"/>
<rect x="1102.0" y="1121.0" width="402.0" height="145.1" fill="none" stroke="#333333" stroke-width="2"/>
<text x="1216.3" y="1113.7" font-size="19" font-weight="bold" textLength="173.4" lengthAdjust="spacingAndGlyphs" fill="#1A1A1A">TAG(56:6)_FA20:5</text>
<path d="M1095.4 1122.0H1101.1M1095.4 1157.6H1101.1M1095.4 1192.6H1101.1M1095.4 1227.8H1101.1M1095.4 1262.9H1101.1" stroke="#333333" stroke-width="2" fill="none"/>
<g font-size="20.8" fill="#4D4D4D"><text x="1042.9" y="1128.5" textLength="43.9" lengthAdjust="spacingAndGlyphs">2000</text><text x="1042.9" y="1164.1" textLength="43.9" lengthAdjust="spacingAndGlyphs">1500</text><text x="1042.9" y="1199.1" textLength="43.9" lengthAdjust="spacingAndGlyphs">1000</text><text x="1053.8" y="1234.3" textLength="33.0" lengthAdjust="spacingAndGlyphs">500</text><text x="1075.8" y="1269.4" textLength="11.0" lengthAdjust="spacingAndGlyphs">0</text></g>
<path d="M1211.4 1267.0v3.4M1394.4 1267.0v3.4" stroke="#333333" stroke-width="1.6" fill="none"/>
<g font-size="20.1" text-anchor="middle" fill="#4D4D4D"><text x="1211.4" y="1284">Control</text><text x="1394.4" y="1284">Case</text></g>
<rect x="1594.9" y="743.3" width="402.0" height="24.3" fill="#D9D9D9"/>
<rect x="1594.9" y="767.6" width="402.0" height="145.2" fill="#fff"/>
<path d="M1594.9 791.1H1996.9M1594.9 823.8H1996.9M1594.9 856.6H1996.9M1594.9 889.3H1996.9" stroke="#F0F0F0" stroke-width="1.6" fill="none"/>
<path d="M1594.9 774.7H1996.9M1594.9 807.5H1996.9M1594.9 840.3H1996.9M1594.9 873.0H1996.9M1594.9 906.0H1996.9M1704.0 767.6V912.8M1887.2 767.6V912.8" stroke="#EBEBEB" stroke-width="2.6" fill="none"/>
<path d="M1704.0 786.4V823.7M1704.0 873.1V901.3" stroke="#333333" stroke-width="2.2" fill="none"/>
<rect x="1635.4" y="823.9" width="137.5" height="49.0" fill="#7FBEE4" stroke="#333333" stroke-width="2.2"/>
<path d="M1635.4 858.2H1773.0" stroke="#333333" stroke-width="4.5" fill="none"/>
<path d="M1887.2 830.3V857.8M1887.2 883.1V905.7" stroke="#333333" stroke-width="2.2" fill="none"/>
<rect x="1818.2" y="858.0" width="137.7" height="24.9" fill="#E47A74" stroke="#333333" stroke-width="2.2"/>
<path d="M1818.2 868.0H1955.9" stroke="#333333" stroke-width="4.5" fill="none"/>
<g fill="#4FA3E0" fill-opacity="0.78" stroke="#4FA3E0" stroke-opacity="0.55" stroke-width="0.9"><ellipse cx="1713.4" cy="786.0" rx="4.8" ry="3"/><ellipse cx="1690.1" cy="798.6" rx="4.8" ry="3"/><ellipse cx="1696.0" cy="804.1" rx="4.8" ry="3"/><ellipse cx="1740.5" cy="807.4" rx="4.8" ry="3"/><ellipse cx="1700.7" cy="816.4" rx="4.8" ry="3"/><ellipse cx="1710.9" cy="818.6" rx="4.8" ry="3"/><ellipse cx="1723.6" cy="817.2" rx="4.8" ry="3"/><ellipse cx="1733.2" cy="837.8" rx="4.8" ry="3"/><ellipse cx="1731.5" cy="840.9" rx="4.8" ry="3"/><ellipse cx="1712.4" cy="842.7" rx="4.8" ry="3"/><ellipse cx="1704.8" cy="844.1" rx="4.8" ry="3"/><ellipse cx="1722.4" cy="849.4" rx="4.8" ry="3"/><ellipse cx="1693.4" cy="852.7" rx="4.8" ry="3"/><ellipse cx="1686.7" cy="863.9" rx="4.8" ry="3"/><ellipse cx="1711.5" cy="864.5" rx="4.8" ry="3"/><ellipse cx="1706.6" cy="865.6" rx="4.8" ry="3"/><ellipse cx="1688.3" cy="868.4" rx="4.8" ry="3"/><ellipse cx="1739.5" cy="872.1" rx="4.8" ry="3"/><ellipse cx="1715.4" cy="873.3" rx="4.8" ry="3"/><ellipse cx="1692.0" cy="874.5" rx="4.8" ry="3"/><ellipse cx="1731.9" cy="881.9" rx="4.8" ry="3"/><ellipse cx="1739.3" cy="883.9" rx="4.8" ry="3"/><ellipse cx="1678.7" cy="887.0" rx="4.8" ry="3"/><ellipse cx="1718.9" cy="888.6" rx="4.8" ry="3"/><ellipse cx="1677.1" cy="901.7" rx="4.8" ry="3"/></g>
<g fill="#E8463C" fill-opacity="0.78" stroke="#E8463C" stroke-opacity="0.55" stroke-width="0.9"><ellipse cx="1854.5" cy="811.1" rx="4.8" ry="3"/><ellipse cx="1890.4" cy="820.3" rx="4.8" ry="3"/><ellipse cx="1869.2" cy="829.4" rx="4.8" ry="3"/><ellipse cx="1862.1" cy="850.5" rx="4.8" ry="3"/><ellipse cx="1889.4" cy="853.1" rx="4.8" ry="3"/><ellipse cx="1910.4" cy="854.5" rx="4.8" ry="3"/><ellipse cx="1885.3" cy="858.2" rx="4.8" ry="3"/><ellipse cx="1921.0" cy="861.3" rx="4.8" ry="3"/><ellipse cx="1852.3" cy="862.3" rx="4.8" ry="3"/><ellipse cx="1863.9" cy="862.9" rx="4.8" ry="3"/><ellipse cx="1883.3" cy="861.9" rx="4.8" ry="3"/><ellipse cx="1858.4" cy="867.2" rx="4.8" ry="3"/><ellipse cx="1919.8" cy="868.2" rx="4.8" ry="3"/><ellipse cx="1852.1" cy="871.3" rx="4.8" ry="3"/><ellipse cx="1918.0" cy="871.7" rx="4.8" ry="3"/><ellipse cx="1869.0" cy="873.7" rx="4.8" ry="3"/><ellipse cx="1897.4" cy="876.2" rx="4.8" ry="3"/><ellipse cx="1910.6" cy="876.4" rx="4.8" ry="3"/><ellipse cx="1875.8" cy="882.7" rx="4.8" ry="3"/><ellipse cx="1871.7" cy="890.4" rx="4.8" ry="3"/><ellipse cx="1853.5" cy="892.3" rx="4.8" ry="3"/><ellipse cx="1918.8" cy="892.9" rx="4.8" ry="3"/><ellipse cx="1908.8" cy="895.5" rx="4.8" ry="3"/><ellipse cx="1902.1" cy="896.6" rx="4.8" ry="3"/><ellipse cx="1872.7" cy="905.9" rx="4.8" ry="3"/></g>
<path d="M1707.3 782.3H1889.8" stroke="#000" stroke-width="2.2" fill="none"/>
<text x="1798.5" y="785.9" font-size="20.5" text-anchor="middle" fill="#000">*</text>
<rect x="1594.9" y="743.3" width="402.0" height="24.3" fill="none" stroke="#333333" stroke-width="2"/>
<rect x="1594.9" y="767.6" width="402.0" height="145.2" fill="none" stroke="#333333" stroke-width="2"/>
<text x="1721.4" y="765.2" font-size="19" font-weight="bold" textLength="148.9" lengthAdjust="spacingAndGlyphs" fill="#1A1A1A">PE(O/16:0/18:1)</text>
<path d="M1588.3 774.7H1594.0M1588.3 807.5H1594.0M1588.3 840.3H1594.0M1588.3 873.0H1594.0M1588.3 906.0H1594.0" stroke="#333333" stroke-width="2" fill="none"/>
<g font-size="20.8" fill="#4D4D4D"><text x="1545.4" y="781.2" textLength="33.0" lengthAdjust="spacingAndGlyphs">125</text><text x="1545.4" y="814.0" textLength="33.0" lengthAdjust="spacingAndGlyphs">100</text><text x="1556.4" y="846.8" textLength="22.0" lengthAdjust="spacingAndGlyphs">75</text><text x="1556.4" y="879.5" textLength="22.0" lengthAdjust="spacingAndGlyphs">50</text><text x="1556.4" y="912.5" textLength="22.0" lengthAdjust="spacingAndGlyphs">25</text></g>
<rect x="1594.9" y="920.0" width="402.0" height="24.2" fill="#D9D9D9"/>
<rect x="1594.9" y="944.3" width="402.0" height="145.2" fill="#fff"/>
<path d="M1594.9 972.8H1996.9M1594.9 1019.3H1996.9M1594.9 1065.9H1996.9" stroke="#F0F0F0" stroke-width="1.6" fill="none"/>
<path d="M1594.9 949.5H1996.9M1594.9 996.1H1996.9M1594.9 1042.6H1996.9M1704.0 944.3V1089.5M1887.2 944.3V1089.5" stroke="#EBEBEB" stroke-width="2.6" fill="none"/>
<path d="M1704.0 1063.0V1067.7M1704.0 1075.2V1076.6" stroke="#333333" stroke-width="2.2" fill="none"/>
<rect x="1635.0" y="1067.9" width="138.3" height="7.1" fill="#7FBEE4" stroke="#333333" stroke-width="2.2"/>
<path d="M1635.0 1071.3H1773.4" stroke="#333333" stroke-width="4.5" fill="none"/>
<path d="M1887.2 1026.3V1041.6M1887.2 1056.2V1064.4" stroke="#333333" stroke-width="2.2" fill="none"/>
<rect x="1817.8" y="1041.8" width="138.5" height="14.3" fill="#E47A74" stroke="#333333" stroke-width="2.2"/>
<path d="M1817.8 1049.1H1956.3" stroke="#333333" stroke-width="4.5" fill="none"/>
<g fill="#4FA3E0" fill-opacity="0.78" stroke="#4FA3E0" stroke-opacity="0.55" stroke-width="0.9"><ellipse cx="1708.7" cy="1054.4" rx="4.8" ry="3"/><ellipse cx="1729.1" cy="1058.3" rx="4.8" ry="3"/><ellipse cx="1720.7" cy="1063.2" rx="4.8" ry="3"/><ellipse cx="1737.2" cy="1063.8" rx="4.8" ry="3"/><ellipse cx="1696.0" cy="1065.4" rx="4.8" ry="3"/><ellipse cx="1724.6" cy="1066.0" rx="4.8" ry="3"/><ellipse cx="1734.8" cy="1068.1" rx="4.8" ry="3"/><ellipse cx="1700.1" cy="1070.5" rx="4.8" ry="3"/><ellipse cx="1718.5" cy="1070.5" rx="4.8" ry="3"/><ellipse cx="1739.3" cy="1070.5" rx="4.8" ry="3"/><ellipse cx="1667.5" cy="1071.7" rx="4.8" ry="3"/><ellipse cx="1676.7" cy="1070.9" rx="4.8" ry="3"/><ellipse cx="1705.2" cy="1071.9" rx="4.8" ry="3"/><ellipse cx="1714.4" cy="1072.6" rx="4.8" ry="3"/><ellipse cx="1732.1" cy="1072.2" rx="4.8" ry="3"/><ellipse cx="1709.3" cy="1073.6" rx="4.8" ry="3"/><ellipse cx="1712.4" cy="1074.2" rx="4.8" ry="3"/><ellipse cx="1730.3" cy="1074.6" rx="4.8" ry="3"/><ellipse cx="1720.1" cy="1075.6" rx="4.8" ry="3"/><ellipse cx="1670.5" cy="1076.2" rx="4.8" ry="3"/><ellipse cx="1680.7" cy="1076.2" rx="4.8" ry="3"/><ellipse cx="1676.0" cy="1076.6" rx="4.8" ry="3"/><ellipse cx="1681.4" cy="1082.8" rx="4.8" ry="3"/><ellipse cx="1722.6" cy="1068.5" rx="4.8" ry="3"/><ellipse cx="1703.2" cy="1071.5" rx="4.8" ry="3"/><ellipse cx="1716.4" cy="1072.6" rx="4.8" ry="3"/></g>
<g fill="#E8463C" fill-opacity="0.78" stroke="#E8463C" stroke-opacity="0.55" stroke-width="0.9"><ellipse cx="1911.5" cy="962.8" rx="4.8" ry="3"/><ellipse cx="1855.0" cy="1010.3" rx="4.8" ry="3"/><ellipse cx="1920.2" cy="1009.3" rx="4.8" ry="3"/><ellipse cx="1908.4" cy="1025.8" rx="4.8" ry="3"/><ellipse cx="1899.2" cy="1038.7" rx="4.8" ry="3"/><ellipse cx="1855.4" cy="1040.5" rx="4.8" ry="3"/><ellipse cx="1920.0" cy="1042.0" rx="4.8" ry="3"/><ellipse cx="1897.6" cy="1043.4" rx="4.8" ry="3"/><ellipse cx="1876.6" cy="1045.4" rx="4.8" ry="3"/><ellipse cx="1908.6" cy="1045.4" rx="4.8" ry="3"/><ellipse cx="1920.0" cy="1046.4" rx="4.8" ry="3"/><ellipse cx="1907.8" cy="1047.7" rx="4.8" ry="3"/><ellipse cx="1857.2" cy="1049.1" rx="4.8" ry="3"/><ellipse cx="1904.1" cy="1049.7" rx="4.8" ry="3"/><ellipse cx="1855.2" cy="1050.7" rx="4.8" ry="3"/><ellipse cx="1918.0" cy="1051.1" rx="4.8" ry="3"/><ellipse cx="1919.8" cy="1052.8" rx="4.8" ry="3"/><ellipse cx="1903.1" cy="1053.6" rx="4.8" ry="3"/><ellipse cx="1857.6" cy="1055.4" rx="4.8" ry="3"/><ellipse cx="1902.1" cy="1059.7" rx="4.8" ry="3"/><ellipse cx="1914.7" cy="1061.1" rx="4.8" ry="3"/><ellipse cx="1854.1" cy="1065.6" rx="4.8" ry="3"/><ellipse cx="1883.3" cy="1067.1" rx="4.8" ry="3"/><ellipse cx="1893.3" cy="1069.3" rx="4.8" ry="3"/><ellipse cx="1868.8" cy="1069.9" rx="4.8" ry="3"/></g>
<path d="M1707.3 957.5H1889.8" stroke="#000" stroke-width="2.2" fill="none"/>
<text x="1798.5" y="961.1" font-size="20.5" text-anchor="middle" fill="#000">***</text>
<rect x="1594.9" y="920.0" width="402.0" height="24.2" fill="none" stroke="#333333" stroke-width="2"/>
<rect x="1594.9" y="944.3" width="402.0" height="145.2" fill="none" stroke="#333333" stroke-width="2"/>
<text x="1709.2" y="937.0" font-size="19" font-weight="bold" textLength="173.4" lengthAdjust="spacingAndGlyphs" fill="#1A1A1A">TAG(56:6)_FA18:1</text>
<path d="M1588.3 949.5H1594.0M1588.3 996.1H1594.0M1588.3 1042.6H1594.0M1588.3 1089.1H1594.0" stroke="#333333" stroke-width="2" fill="none"/>
<g font-size="20.8" fill="#4D4D4D"><text x="1523.5" y="956.0" textLength="54.9" lengthAdjust="spacingAndGlyphs">30000</text><text x="1523.5" y="1002.6" textLength="54.9" lengthAdjust="spacingAndGlyphs">20000</text><text x="1523.5" y="1049.1" textLength="54.9" lengthAdjust="spacingAndGlyphs">10000</text><text x="1567.4" y="1095.6" textLength="11.0" lengthAdjust="spacingAndGlyphs">0</text></g>
<rect x="1594.9" y="1096.8" width="402.0" height="24.2" fill="#D9D9D9"/>
<rect x="1594.9" y="1121.0" width="402.0" height="145.1" fill="#fff"/>
<path d="M1594.9 1132.1H1996.9M1594.9 1161.2H1996.9M1594.9 1190.4H1996.9M1594.9 1219.5H1996.9M1594.9 1248.6H1996.9" stroke="#F0F0F0" stroke-width="1.6" fill="none"/>
<path d="M1594.9 1146.7H1996.9M1594.9 1175.8H1996.9M1594.9 1204.7H1996.9M1594.9 1233.8H1996.9M1594.9 1262.9H1996.9M1704.0 1121.0V1266.1M1887.2 1121.0V1266.1" stroke="#EBEBEB" stroke-width="2.6" fill="none"/>
<path d="M1704.0 1247.9V1250.2M1704.0 1255.1V1259.8" stroke="#333333" stroke-width="2.2" fill="none"/>
<rect x="1635.0" y="1250.4" width="138.3" height="4.5" fill="#7FBEE4" stroke="#333333" stroke-width="2.2"/>
<path d="M1635.0 1252.6H1773.4" stroke="#333333" stroke-width="4.5" fill="none"/>
<path d="M1887.2 1210.2V1225.5M1887.2 1244.3V1250.8" stroke="#333333" stroke-width="2.2" fill="none"/>
<rect x="1817.8" y="1225.7" width="138.5" height="18.4" fill="#E47A74" stroke="#333333" stroke-width="2.2"/>
<path d="M1817.8 1235.7H1956.3" stroke="#333333" stroke-width="4.5" fill="none"/>
<g fill="#4FA3E0" fill-opacity="0.78" stroke="#4FA3E0" stroke-opacity="0.55" stroke-width="0.9"><ellipse cx="1675.6" cy="1247.9" rx="4.8" ry="3"/><ellipse cx="1688.3" cy="1248.5" rx="4.8" ry="3"/><ellipse cx="1709.3" cy="1248.7" rx="4.8" ry="3"/><ellipse cx="1719.5" cy="1250.6" rx="4.8" ry="3"/><ellipse cx="1724.6" cy="1250.4" rx="4.8" ry="3"/><ellipse cx="1681.8" cy="1251.6" rx="4.8" ry="3"/><ellipse cx="1672.6" cy="1253.0" rx="4.8" ry="3"/><ellipse cx="1679.7" cy="1253.0" rx="4.8" ry="3"/><ellipse cx="1685.8" cy="1251.6" rx="4.8" ry="3"/><ellipse cx="1698.1" cy="1252.0" rx="4.8" ry="3"/><ellipse cx="1703.2" cy="1252.6" rx="4.8" ry="3"/><ellipse cx="1714.4" cy="1253.0" rx="4.8" ry="3"/><ellipse cx="1718.5" cy="1253.6" rx="4.8" ry="3"/><ellipse cx="1726.6" cy="1253.2" rx="4.8" ry="3"/><ellipse cx="1732.8" cy="1253.6" rx="4.8" ry="3"/><ellipse cx="1729.7" cy="1255.3" rx="4.8" ry="3"/><ellipse cx="1731.7" cy="1256.1" rx="4.8" ry="3"/><ellipse cx="1691.6" cy="1255.1" rx="4.8" ry="3"/><ellipse cx="1718.9" cy="1256.7" rx="4.8" ry="3"/><ellipse cx="1712.4" cy="1253.6" rx="4.8" ry="3"/><ellipse cx="1722.6" cy="1254.0" rx="4.8" ry="3"/><ellipse cx="1704.2" cy="1259.6" rx="4.8" ry="3"/><ellipse cx="1694.0" cy="1252.6" rx="4.8" ry="3"/><ellipse cx="1706.2" cy="1251.6" rx="4.8" ry="3"/><ellipse cx="1687.9" cy="1252.6" rx="4.8" ry="3"/><ellipse cx="1716.4" cy="1251.6" rx="4.8" ry="3"/></g>
<g fill="#E8463C" fill-opacity="0.78" stroke="#E8463C" stroke-opacity="0.55" stroke-width="0.9"><ellipse cx="1888.6" cy="1139.6" rx="4.8" ry="3"/><ellipse cx="1861.1" cy="1200.0" rx="4.8" ry="3"/><ellipse cx="1864.3" cy="1209.4" rx="4.8" ry="3"/><ellipse cx="1873.9" cy="1212.8" rx="4.8" ry="3"/><ellipse cx="1886.0" cy="1220.4" rx="4.8" ry="3"/><ellipse cx="1884.7" cy="1224.3" rx="4.8" ry="3"/><ellipse cx="1915.9" cy="1226.1" rx="4.8" ry="3"/><ellipse cx="1875.6" cy="1226.5" rx="4.8" ry="3"/><ellipse cx="1872.5" cy="1230.2" rx="4.8" ry="3"/><ellipse cx="1867.0" cy="1231.0" rx="4.8" ry="3"/><ellipse cx="1873.5" cy="1235.5" rx="4.8" ry="3"/><ellipse cx="1892.9" cy="1235.5" rx="4.8" ry="3"/><ellipse cx="1907.8" cy="1235.1" rx="4.8" ry="3"/><ellipse cx="1858.4" cy="1237.3" rx="4.8" ry="3"/><ellipse cx="1884.9" cy="1237.7" rx="4.8" ry="3"/><ellipse cx="1886.8" cy="1239.6" rx="4.8" ry="3"/><ellipse cx="1869.4" cy="1242.4" rx="4.8" ry="3"/><ellipse cx="1891.9" cy="1242.0" rx="4.8" ry="3"/><ellipse cx="1858.2" cy="1245.9" rx="4.8" ry="3"/><ellipse cx="1871.1" cy="1245.9" rx="4.8" ry="3"/><ellipse cx="1880.5" cy="1247.7" rx="4.8" ry="3"/><ellipse cx="1910.8" cy="1246.7" rx="4.8" ry="3"/><ellipse cx="1852.7" cy="1251.6" rx="4.8" ry="3"/><ellipse cx="1872.7" cy="1251.2" rx="4.8" ry="3"/><ellipse cx="1871.5" cy="1243.8" rx="4.8" ry="3"/></g>
<path d="M1707.3 1133.9H1889.8" stroke="#000" stroke-width="2.2" fill="none"/>
<text x="1798.5" y="1137.5" font-size="20.5" text-anchor="middle" fill="#000">***</text>
<rect x="1594.9" y="1096.8" width="402.0" height="24.2" fill="none" stroke="#333333" stroke-width="2"/>
<rect x="1594.9" y="1121.0" width="402.0" height="145.1" fill="none" stroke="#333333" stroke-width="2"/>
<text x="1709.2" y="1113.7" font-size="19" font-weight="bold" textLength="173.4" lengthAdjust="spacingAndGlyphs" fill="#1A1A1A">TAG(56:6)_FA22:5</text>
<path d="M1588.3 1146.7H1594.0M1588.3 1175.8H1594.0M1588.3 1204.7H1594.0M1588.3 1233.8H1594.0M1588.3 1262.9H1594.0" stroke="#333333" stroke-width="2" fill="none"/>
<g font-size="20.8" fill="#4D4D4D"><text x="1523.5" y="1153.2" textLength="54.9" lengthAdjust="spacingAndGlyphs">20000</text><text x="1523.5" y="1182.3" textLength="54.9" lengthAdjust="spacingAndGlyphs">15000</text><text x="1523.5" y="1211.2" textLength="54.9" lengthAdjust="spacingAndGlyphs">10000</text><text x="1534.5" y="1240.3" textLength="43.9" lengthAdjust="spacingAndGlyphs">5000</text><text x="1567.4" y="1269.4" textLength="11.0" lengthAdjust="spacingAndGlyphs">0</text></g>
<path d="M1704.0 1267.0v3.4M1887.2 1267.0v3.4" stroke="#333333" stroke-width="1.6" fill="none"/>
<g font-size="20.1" text-anchor="middle" fill="#4D4D4D"><text x="1704.0" y="1284">Control</text><text x="1887.2" y="1284">Case</text></g>
<text transform="translate(1032.7,1072.6) rotate(-90)" font-size="24.6" fill="#000">Expression Level</text>
<text x="1364.8" y="1311.8" font-size="21.5" textLength="120.6" lengthAdjust="spacingAndGlyphs" fill="#000">HBP Status</text>
<path d="M1529.2 1298.7V1316.6" stroke="#333333" stroke-width="1.8"/><rect x="1514.5" y="1303" width="29.3" height="10.6" fill="#7FBEE4" stroke="#333333" stroke-width="1.8"/><path d="M1514.5 1308.3H1543.8" stroke="#333333" stroke-width="3.4"/><ellipse cx="1529.2" cy="1308.3" rx="5.1" ry="3.3" fill="#4FA3E0" fill-opacity="0.85"/>
<path d="M1662.2 1298.7V1316.6" stroke="#333333" stroke-width="1.8"/><rect x="1647.2" y="1303" width="30.0" height="10.6" fill="#E47A74" stroke="#333333" stroke-width="1.8"/><path d="M1647.2 1308.3H1677.2" stroke="#333333" stroke-width="3.4"/><ellipse cx="1662.2" cy="1308.3" rx="5.1" ry="3.3" fill="#E8463C" fill-opacity="0.85"/>
<g font-size="19.8" fill="#000"><text x="1563.5" y="1311.8">Control</text><text x="1697" y="1311.8">Case</text></g>
</svg>
</body></html>
